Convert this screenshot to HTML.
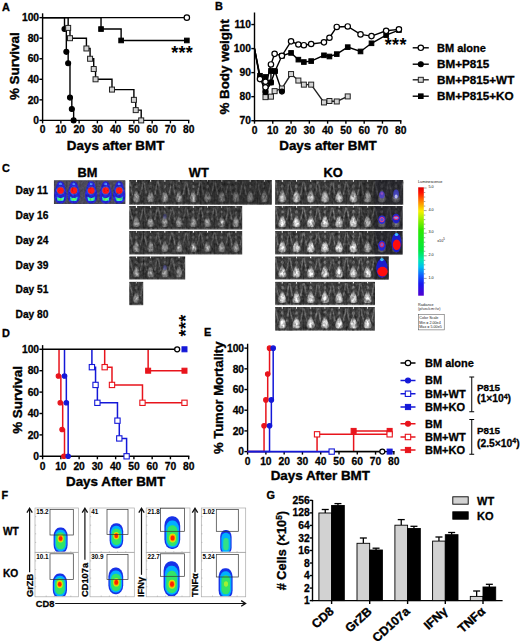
<!DOCTYPE html>
<html lang="en"><head><meta charset="utf-8"><title>Figure</title>
<style>html,body{margin:0;padding:0;background:#fff;}body{width:520px;height:643px;overflow:hidden;}svg{display:block;}text{font-family:'Liberation Sans', Arial, Helvetica, sans-serif;}</style>
</head><body>
<svg width="520" height="643" viewBox="0 0 520 643">
<rect x="0" y="0" width="520" height="643" fill="#fff"/>
<text x="2.00" y="10.50" font-size="10.9" text-anchor="start" font-weight="bold" fill="#000" stroke="#000" stroke-width="0.31" >A</text>
<line x1="42.60" y1="13.30" x2="42.60" y2="121.10" stroke="#000" stroke-width="1.4" />
<line x1="41.90" y1="120.40" x2="189.38" y2="120.40" stroke="#000" stroke-width="1.4" />
<line x1="39.40" y1="120.40" x2="42.60" y2="120.40" stroke="#000" stroke-width="1.4" />
<text x="39.10" y="124.10" font-size="10.3" text-anchor="end" font-weight="bold" fill="#000" stroke="#000" stroke-width="0.29" >0</text>
<line x1="39.40" y1="99.85" x2="42.60" y2="99.85" stroke="#000" stroke-width="1.4" />
<text x="39.10" y="103.55" font-size="10.3" text-anchor="end" font-weight="bold" fill="#000" stroke="#000" stroke-width="0.29" >20</text>
<line x1="39.40" y1="79.30" x2="42.60" y2="79.30" stroke="#000" stroke-width="1.4" />
<text x="39.10" y="83.00" font-size="10.3" text-anchor="end" font-weight="bold" fill="#000" stroke="#000" stroke-width="0.29" >40</text>
<line x1="39.40" y1="58.75" x2="42.60" y2="58.75" stroke="#000" stroke-width="1.4" />
<text x="39.10" y="62.45" font-size="10.3" text-anchor="end" font-weight="bold" fill="#000" stroke="#000" stroke-width="0.29" >60</text>
<line x1="39.40" y1="38.20" x2="42.60" y2="38.20" stroke="#000" stroke-width="1.4" />
<text x="39.10" y="41.90" font-size="10.3" text-anchor="end" font-weight="bold" fill="#000" stroke="#000" stroke-width="0.29" >80</text>
<line x1="39.40" y1="17.65" x2="42.60" y2="17.65" stroke="#000" stroke-width="1.4" />
<text x="39.10" y="21.35" font-size="10.3" text-anchor="end" font-weight="bold" fill="#000" stroke="#000" stroke-width="0.29" >100</text>
<line x1="42.60" y1="120.40" x2="42.60" y2="123.40" stroke="#000" stroke-width="1.4" />
<text x="42.60" y="133.30" font-size="10.3" text-anchor="middle" font-weight="bold" fill="#000" stroke="#000" stroke-width="0.29" >0</text>
<line x1="60.86" y1="120.40" x2="60.86" y2="123.40" stroke="#000" stroke-width="1.4" />
<text x="60.86" y="133.30" font-size="10.3" text-anchor="middle" font-weight="bold" fill="#000" stroke="#000" stroke-width="0.29" >10</text>
<line x1="79.12" y1="120.40" x2="79.12" y2="123.40" stroke="#000" stroke-width="1.4" />
<text x="79.12" y="133.30" font-size="10.3" text-anchor="middle" font-weight="bold" fill="#000" stroke="#000" stroke-width="0.29" >20</text>
<line x1="97.38" y1="120.40" x2="97.38" y2="123.40" stroke="#000" stroke-width="1.4" />
<text x="97.38" y="133.30" font-size="10.3" text-anchor="middle" font-weight="bold" fill="#000" stroke="#000" stroke-width="0.29" >30</text>
<line x1="115.64" y1="120.40" x2="115.64" y2="123.40" stroke="#000" stroke-width="1.4" />
<text x="115.64" y="133.30" font-size="10.3" text-anchor="middle" font-weight="bold" fill="#000" stroke="#000" stroke-width="0.29" >40</text>
<line x1="133.90" y1="120.40" x2="133.90" y2="123.40" stroke="#000" stroke-width="1.4" />
<text x="133.90" y="133.30" font-size="10.3" text-anchor="middle" font-weight="bold" fill="#000" stroke="#000" stroke-width="0.29" >50</text>
<line x1="152.16" y1="120.40" x2="152.16" y2="123.40" stroke="#000" stroke-width="1.4" />
<text x="152.16" y="133.30" font-size="10.3" text-anchor="middle" font-weight="bold" fill="#000" stroke="#000" stroke-width="0.29" >60</text>
<line x1="170.42" y1="120.40" x2="170.42" y2="123.40" stroke="#000" stroke-width="1.4" />
<text x="170.42" y="133.30" font-size="10.3" text-anchor="middle" font-weight="bold" fill="#000" stroke="#000" stroke-width="0.29" >70</text>
<line x1="188.68" y1="120.40" x2="188.68" y2="123.40" stroke="#000" stroke-width="1.4" />
<text x="188.68" y="133.30" font-size="10.3" text-anchor="middle" font-weight="bold" fill="#000" stroke="#000" stroke-width="0.29" >80</text>
<text x="115.60" y="150.00" font-size="13.4" text-anchor="middle" font-weight="bold" fill="#000" stroke="#000" stroke-width="0.38" >Days after BMT</text>
<text transform="translate(19.10,66.20) rotate(-90)" font-size="13.4" text-anchor="middle" font-weight="bold" fill="#000" stroke="#000" stroke-width="0.38">% Survival</text>
<line x1="42.60" y1="17.65" x2="186.85" y2="17.65" stroke="#000" stroke-width="1.4" />
<polyline points="42.60,17.65 101.03,17.65 101.03,29.06 121.12,29.06 121.12,40.46 186.85,40.46" fill="none" stroke="#000" stroke-width="1.4" stroke-linejoin="miter" />
<polyline points="42.60,17.65 64.51,17.65 64.51,29.06 66.34,29.06 66.34,51.87 68.16,51.87 68.16,63.27 69.99,63.27 69.99,97.59 71.82,97.59 71.82,108.99 73.64,108.99 73.64,120.40" fill="none" stroke="#000" stroke-width="1.4" stroke-linejoin="miter" />
<polyline points="42.60,17.65 68.16,17.65 68.16,27.92 69.99,27.92 69.99,38.20 86.42,38.20 86.42,48.47 90.08,48.47 90.08,58.75 93.73,58.75 93.73,69.03 95.55,69.03 95.55,79.30 111.99,79.30 111.99,89.58 133.90,89.58 133.90,99.85 135.73,99.85 135.73,110.12 141.20,110.12 141.20,120.40" fill="none" stroke="#000" stroke-width="1.4" stroke-linejoin="miter" />
<circle cx="64.51" cy="29.06" r="2.5" fill="#000" stroke="#000" stroke-width="1.1"/>
<circle cx="66.34" cy="51.87" r="2.5" fill="#000" stroke="#000" stroke-width="1.1"/>
<circle cx="68.16" cy="63.27" r="2.5" fill="#000" stroke="#000" stroke-width="1.1"/>
<circle cx="69.99" cy="97.59" r="2.5" fill="#000" stroke="#000" stroke-width="1.1"/>
<circle cx="71.82" cy="108.99" r="2.5" fill="#000" stroke="#000" stroke-width="1.1"/>
<circle cx="73.64" cy="120.40" r="2.5" fill="#000" stroke="#000" stroke-width="1.1"/>
<rect x="65.66" y="25.42" width="5.0" height="5.0" fill="#d4d4d4" stroke="#222" stroke-width="1.0"/>
<rect x="67.49" y="35.70" width="5.0" height="5.0" fill="#d4d4d4" stroke="#222" stroke-width="1.0"/>
<rect x="83.92" y="45.97" width="5.0" height="5.0" fill="#d4d4d4" stroke="#222" stroke-width="1.0"/>
<rect x="87.58" y="56.25" width="5.0" height="5.0" fill="#d4d4d4" stroke="#222" stroke-width="1.0"/>
<rect x="91.23" y="66.53" width="5.0" height="5.0" fill="#d4d4d4" stroke="#222" stroke-width="1.0"/>
<rect x="93.05" y="76.80" width="5.0" height="5.0" fill="#d4d4d4" stroke="#222" stroke-width="1.0"/>
<rect x="109.49" y="87.08" width="5.0" height="5.0" fill="#d4d4d4" stroke="#222" stroke-width="1.0"/>
<rect x="131.40" y="97.35" width="5.0" height="5.0" fill="#d4d4d4" stroke="#222" stroke-width="1.0"/>
<rect x="133.23" y="107.62" width="5.0" height="5.0" fill="#d4d4d4" stroke="#222" stroke-width="1.0"/>
<rect x="138.70" y="117.90" width="5.0" height="5.0" fill="#d4d4d4" stroke="#222" stroke-width="1.0"/>
<rect x="98.73" y="26.76" width="4.6" height="4.6" fill="#000" stroke="#000" stroke-width="1.0"/>
<rect x="118.82" y="38.16" width="4.6" height="4.6" fill="#000" stroke="#000" stroke-width="1.0"/>
<rect x="184.55" y="38.16" width="4.6" height="4.6" fill="#000" stroke="#000" stroke-width="1.0"/>
<circle cx="186.85" cy="17.65" r="2.7" fill="#fff" stroke="#000" stroke-width="1.2"/>
<text x="182.20" y="58.80" font-size="18" letter-spacing="0.35" text-anchor="middle" font-weight="bold" fill="#000">***</text>
<text x="215.10" y="10.30" font-size="10.9" text-anchor="start" font-weight="bold" fill="#000" stroke="#000" stroke-width="0.31" >B</text>
<line x1="254.50" y1="12.50" x2="254.50" y2="121.40" stroke="#000" stroke-width="1.4" />
<line x1="253.80" y1="120.70" x2="401.44" y2="120.70" stroke="#000" stroke-width="1.4" />
<line x1="251.30" y1="120.70" x2="254.50" y2="120.70" stroke="#000" stroke-width="1.4" />
<text x="251.00" y="124.40" font-size="10.3" text-anchor="end" font-weight="bold" fill="#000" stroke="#000" stroke-width="0.29" >70</text>
<line x1="251.30" y1="96.66" x2="254.50" y2="96.66" stroke="#000" stroke-width="1.4" />
<text x="251.00" y="100.36" font-size="10.3" text-anchor="end" font-weight="bold" fill="#000" stroke="#000" stroke-width="0.29" >80</text>
<line x1="251.30" y1="72.62" x2="254.50" y2="72.62" stroke="#000" stroke-width="1.4" />
<text x="251.00" y="76.32" font-size="10.3" text-anchor="end" font-weight="bold" fill="#000" stroke="#000" stroke-width="0.29" >90</text>
<line x1="251.30" y1="48.58" x2="254.50" y2="48.58" stroke="#000" stroke-width="1.4" />
<text x="251.00" y="52.28" font-size="10.3" text-anchor="end" font-weight="bold" fill="#000" stroke="#000" stroke-width="0.29" >100</text>
<line x1="251.30" y1="24.54" x2="254.50" y2="24.54" stroke="#000" stroke-width="1.4" />
<text x="251.00" y="28.24" font-size="10.3" text-anchor="end" font-weight="bold" fill="#000" stroke="#000" stroke-width="0.29" >110</text>
<line x1="254.50" y1="120.70" x2="254.50" y2="123.70" stroke="#000" stroke-width="1.4" />
<text x="254.50" y="133.60" font-size="10.3" text-anchor="middle" font-weight="bold" fill="#000" stroke="#000" stroke-width="0.29" >0</text>
<line x1="272.78" y1="120.70" x2="272.78" y2="123.70" stroke="#000" stroke-width="1.4" />
<text x="272.78" y="133.60" font-size="10.3" text-anchor="middle" font-weight="bold" fill="#000" stroke="#000" stroke-width="0.29" >10</text>
<line x1="291.06" y1="120.70" x2="291.06" y2="123.70" stroke="#000" stroke-width="1.4" />
<text x="291.06" y="133.60" font-size="10.3" text-anchor="middle" font-weight="bold" fill="#000" stroke="#000" stroke-width="0.29" >20</text>
<line x1="309.34" y1="120.70" x2="309.34" y2="123.70" stroke="#000" stroke-width="1.4" />
<text x="309.34" y="133.60" font-size="10.3" text-anchor="middle" font-weight="bold" fill="#000" stroke="#000" stroke-width="0.29" >30</text>
<line x1="327.62" y1="120.70" x2="327.62" y2="123.70" stroke="#000" stroke-width="1.4" />
<text x="327.62" y="133.60" font-size="10.3" text-anchor="middle" font-weight="bold" fill="#000" stroke="#000" stroke-width="0.29" >40</text>
<line x1="345.90" y1="120.70" x2="345.90" y2="123.70" stroke="#000" stroke-width="1.4" />
<text x="345.90" y="133.60" font-size="10.3" text-anchor="middle" font-weight="bold" fill="#000" stroke="#000" stroke-width="0.29" >50</text>
<line x1="364.18" y1="120.70" x2="364.18" y2="123.70" stroke="#000" stroke-width="1.4" />
<text x="364.18" y="133.60" font-size="10.3" text-anchor="middle" font-weight="bold" fill="#000" stroke="#000" stroke-width="0.29" >60</text>
<line x1="382.46" y1="120.70" x2="382.46" y2="123.70" stroke="#000" stroke-width="1.4" />
<text x="382.46" y="133.60" font-size="10.3" text-anchor="middle" font-weight="bold" fill="#000" stroke="#000" stroke-width="0.29" >70</text>
<line x1="400.74" y1="120.70" x2="400.74" y2="123.70" stroke="#000" stroke-width="1.4" />
<text x="400.74" y="133.60" font-size="10.3" text-anchor="middle" font-weight="bold" fill="#000" stroke="#000" stroke-width="0.29" >80</text>
<text x="328.00" y="150.00" font-size="13.4" text-anchor="middle" font-weight="bold" fill="#000" stroke="#000" stroke-width="0.38" >Days after BMT</text>
<text transform="translate(228.60,67.00) rotate(-90)" font-size="13.4" text-anchor="middle" font-weight="bold" fill="#000" stroke="#000" stroke-width="0.38">% Body weight</text>
<polyline points="254.50,48.58 259.98,77.43 265.47,91.85 270.95,82.48 274.97,71.18 281.92,91.61" fill="none" stroke="#000" stroke-width="1.4" stroke-linejoin="miter" />
<polyline points="265.47,97.14 270.95,96.66 274.61,91.13 281.92,88.49 291.06,74.06 298.37,80.55 303.86,84.64 311.17,84.64 323.96,102.43 329.45,100.99 336.76,101.47 347.73,96.42" fill="none" stroke="#222" stroke-width="1.4" stroke-linejoin="miter" />
<polyline points="254.50,48.58 259.98,75.75 265.47,76.95 265.47,91.85 270.95,82.48 270.95,70.94 274.97,71.18 281.92,55.79 291.06,52.91 298.37,59.64 303.86,62.04 311.17,61.08 323.96,55.31 329.45,56.51 336.76,54.11 347.73,47.14 360.52,51.46 371.49,43.29 386.12,35.12 398.91,30.07" fill="none" stroke="#000" stroke-width="1.4" stroke-linejoin="miter" />
<polyline points="254.50,48.58 259.98,79.11 265.47,81.76 265.47,87.28 270.95,64.45 274.61,53.87 281.92,55.79 291.06,41.37 298.37,44.49 303.86,45.21 311.17,44.01 323.96,42.33 329.45,37.76 336.76,26.94 347.73,26.46 360.52,34.40 371.49,36.08 386.12,30.79 398.91,29.35" fill="none" stroke="#000" stroke-width="1.4" stroke-linejoin="miter" />
<rect x="262.97" y="94.64" width="5.0" height="5.0" fill="#d4d4d4" stroke="#222" stroke-width="1.0"/>
<rect x="268.45" y="94.16" width="5.0" height="5.0" fill="#d4d4d4" stroke="#222" stroke-width="1.0"/>
<rect x="272.11" y="88.63" width="5.0" height="5.0" fill="#d4d4d4" stroke="#222" stroke-width="1.0"/>
<rect x="279.42" y="85.99" width="5.0" height="5.0" fill="#d4d4d4" stroke="#222" stroke-width="1.0"/>
<rect x="288.56" y="71.56" width="5.0" height="5.0" fill="#d4d4d4" stroke="#222" stroke-width="1.0"/>
<rect x="295.87" y="78.05" width="5.0" height="5.0" fill="#d4d4d4" stroke="#222" stroke-width="1.0"/>
<rect x="301.36" y="82.14" width="5.0" height="5.0" fill="#d4d4d4" stroke="#222" stroke-width="1.0"/>
<rect x="308.67" y="82.14" width="5.0" height="5.0" fill="#d4d4d4" stroke="#222" stroke-width="1.0"/>
<rect x="321.46" y="99.93" width="5.0" height="5.0" fill="#d4d4d4" stroke="#222" stroke-width="1.0"/>
<rect x="326.95" y="98.49" width="5.0" height="5.0" fill="#d4d4d4" stroke="#222" stroke-width="1.0"/>
<rect x="334.26" y="98.97" width="5.0" height="5.0" fill="#d4d4d4" stroke="#222" stroke-width="1.0"/>
<rect x="345.23" y="93.92" width="5.0" height="5.0" fill="#d4d4d4" stroke="#222" stroke-width="1.0"/>
<circle cx="259.98" cy="77.43" r="2.5" fill="#000" stroke="#000" stroke-width="1.1"/>
<circle cx="265.47" cy="91.85" r="2.5" fill="#000" stroke="#000" stroke-width="1.1"/>
<circle cx="270.95" cy="82.48" r="2.5" fill="#000" stroke="#000" stroke-width="1.1"/>
<circle cx="274.97" cy="71.18" r="2.5" fill="#000" stroke="#000" stroke-width="1.1"/>
<circle cx="281.92" cy="91.61" r="2.5" fill="#000" stroke="#000" stroke-width="1.1"/>
<rect x="257.68" y="73.45" width="4.6" height="4.6" fill="#000" stroke="#000" stroke-width="1.0"/>
<rect x="263.17" y="74.65" width="4.6" height="4.6" fill="#000" stroke="#000" stroke-width="1.0"/>
<rect x="263.17" y="89.55" width="4.6" height="4.6" fill="#000" stroke="#000" stroke-width="1.0"/>
<rect x="268.65" y="80.18" width="4.6" height="4.6" fill="#000" stroke="#000" stroke-width="1.0"/>
<rect x="268.65" y="68.64" width="4.6" height="4.6" fill="#000" stroke="#000" stroke-width="1.0"/>
<rect x="272.67" y="68.88" width="4.6" height="4.6" fill="#000" stroke="#000" stroke-width="1.0"/>
<rect x="279.62" y="53.49" width="4.6" height="4.6" fill="#000" stroke="#000" stroke-width="1.0"/>
<rect x="288.76" y="50.61" width="4.6" height="4.6" fill="#000" stroke="#000" stroke-width="1.0"/>
<rect x="296.07" y="57.34" width="4.6" height="4.6" fill="#000" stroke="#000" stroke-width="1.0"/>
<rect x="301.56" y="59.74" width="4.6" height="4.6" fill="#000" stroke="#000" stroke-width="1.0"/>
<rect x="308.87" y="58.78" width="4.6" height="4.6" fill="#000" stroke="#000" stroke-width="1.0"/>
<rect x="321.66" y="53.01" width="4.6" height="4.6" fill="#000" stroke="#000" stroke-width="1.0"/>
<rect x="327.15" y="54.21" width="4.6" height="4.6" fill="#000" stroke="#000" stroke-width="1.0"/>
<rect x="334.46" y="51.81" width="4.6" height="4.6" fill="#000" stroke="#000" stroke-width="1.0"/>
<rect x="345.43" y="44.84" width="4.6" height="4.6" fill="#000" stroke="#000" stroke-width="1.0"/>
<rect x="358.22" y="49.16" width="4.6" height="4.6" fill="#000" stroke="#000" stroke-width="1.0"/>
<rect x="369.19" y="40.99" width="4.6" height="4.6" fill="#000" stroke="#000" stroke-width="1.0"/>
<rect x="383.82" y="32.82" width="4.6" height="4.6" fill="#000" stroke="#000" stroke-width="1.0"/>
<rect x="396.61" y="27.77" width="4.6" height="4.6" fill="#000" stroke="#000" stroke-width="1.0"/>
<circle cx="259.98" cy="79.11" r="2.7" fill="#fff" stroke="#000" stroke-width="1.2"/>
<circle cx="265.47" cy="81.76" r="2.7" fill="#fff" stroke="#000" stroke-width="1.2"/>
<circle cx="265.47" cy="87.28" r="2.7" fill="#fff" stroke="#000" stroke-width="1.2"/>
<circle cx="270.95" cy="64.45" r="2.7" fill="#fff" stroke="#000" stroke-width="1.2"/>
<circle cx="274.61" cy="53.87" r="2.7" fill="#fff" stroke="#000" stroke-width="1.2"/>
<circle cx="281.92" cy="55.79" r="2.7" fill="#fff" stroke="#000" stroke-width="1.2"/>
<circle cx="291.06" cy="41.37" r="2.7" fill="#fff" stroke="#000" stroke-width="1.2"/>
<circle cx="298.37" cy="44.49" r="2.7" fill="#fff" stroke="#000" stroke-width="1.2"/>
<circle cx="303.86" cy="45.21" r="2.7" fill="#fff" stroke="#000" stroke-width="1.2"/>
<circle cx="311.17" cy="44.01" r="2.7" fill="#fff" stroke="#000" stroke-width="1.2"/>
<circle cx="323.96" cy="42.33" r="2.7" fill="#fff" stroke="#000" stroke-width="1.2"/>
<circle cx="329.45" cy="37.76" r="2.7" fill="#fff" stroke="#000" stroke-width="1.2"/>
<circle cx="336.76" cy="26.94" r="2.7" fill="#fff" stroke="#000" stroke-width="1.2"/>
<circle cx="347.73" cy="26.46" r="2.7" fill="#fff" stroke="#000" stroke-width="1.2"/>
<circle cx="360.52" cy="34.40" r="2.7" fill="#fff" stroke="#000" stroke-width="1.2"/>
<circle cx="371.49" cy="36.08" r="2.7" fill="#fff" stroke="#000" stroke-width="1.2"/>
<circle cx="386.12" cy="30.79" r="2.7" fill="#fff" stroke="#000" stroke-width="1.2"/>
<circle cx="398.91" cy="29.35" r="2.7" fill="#fff" stroke="#000" stroke-width="1.2"/>
<text x="395.80" y="50.50" font-size="18" letter-spacing="0.35" text-anchor="middle" font-weight="bold" fill="#000">***</text>
<line x1="412.70" y1="47.80" x2="428.80" y2="47.80" stroke="#000" stroke-width="1.4" />
<circle cx="420.80" cy="47.80" r="2.7" fill="#fff" stroke="#000" stroke-width="1.2"/>
<text x="437.00" y="51.70" font-size="11" text-anchor="start" font-weight="bold" fill="#000" stroke="#000" stroke-width="0.31" >BM alone</text>
<line x1="412.70" y1="64.20" x2="428.80" y2="64.20" stroke="#000" stroke-width="1.4" />
<circle cx="420.80" cy="64.20" r="2.5" fill="#000" stroke="#000" stroke-width="1.1"/>
<text x="437.00" y="68.10" font-size="11.7" text-anchor="start" font-weight="bold" fill="#000" stroke="#000" stroke-width="0.33" >BM+P815</text>
<line x1="412.70" y1="79.80" x2="428.80" y2="79.80" stroke="#222" stroke-width="1.4" />
<rect x="418.30" y="77.30" width="5.0" height="5.0" fill="#d4d4d4" stroke="#222" stroke-width="1.0"/>
<text x="437.00" y="83.70" font-size="11.7" text-anchor="start" font-weight="bold" fill="#000" stroke="#000" stroke-width="0.33" >BM+P815+WT</text>
<line x1="412.70" y1="96.20" x2="428.80" y2="96.20" stroke="#000" stroke-width="1.4" />
<rect x="418.50" y="93.90" width="4.6" height="4.6" fill="#000" stroke="#000" stroke-width="1.0"/>
<text x="437.00" y="100.10" font-size="11.7" text-anchor="start" font-weight="bold" fill="#000" stroke="#000" stroke-width="0.33" >BM+P815+KO</text>
<text x="2.00" y="336.50" font-size="10.9" text-anchor="start" font-weight="bold" fill="#000" stroke="#000" stroke-width="0.31" >D</text>
<line x1="42.60" y1="345.10" x2="42.60" y2="457.00" stroke="#000" stroke-width="1.4" />
<line x1="41.90" y1="456.30" x2="189.38" y2="456.30" stroke="#000" stroke-width="1.4" />
<line x1="39.40" y1="456.30" x2="42.60" y2="456.30" stroke="#000" stroke-width="1.4" />
<text x="39.10" y="460.00" font-size="10.3" text-anchor="end" font-weight="bold" fill="#000" stroke="#000" stroke-width="0.29" >0</text>
<line x1="39.40" y1="434.90" x2="42.60" y2="434.90" stroke="#000" stroke-width="1.4" />
<text x="39.10" y="438.60" font-size="10.3" text-anchor="end" font-weight="bold" fill="#000" stroke="#000" stroke-width="0.29" >20</text>
<line x1="39.40" y1="413.50" x2="42.60" y2="413.50" stroke="#000" stroke-width="1.4" />
<text x="39.10" y="417.20" font-size="10.3" text-anchor="end" font-weight="bold" fill="#000" stroke="#000" stroke-width="0.29" >40</text>
<line x1="39.40" y1="392.10" x2="42.60" y2="392.10" stroke="#000" stroke-width="1.4" />
<text x="39.10" y="395.80" font-size="10.3" text-anchor="end" font-weight="bold" fill="#000" stroke="#000" stroke-width="0.29" >60</text>
<line x1="39.40" y1="370.70" x2="42.60" y2="370.70" stroke="#000" stroke-width="1.4" />
<text x="39.10" y="374.40" font-size="10.3" text-anchor="end" font-weight="bold" fill="#000" stroke="#000" stroke-width="0.29" >80</text>
<line x1="39.40" y1="349.30" x2="42.60" y2="349.30" stroke="#000" stroke-width="1.4" />
<text x="39.10" y="353.00" font-size="10.3" text-anchor="end" font-weight="bold" fill="#000" stroke="#000" stroke-width="0.29" >100</text>
<line x1="42.60" y1="456.30" x2="42.60" y2="459.30" stroke="#000" stroke-width="1.4" />
<text x="42.60" y="469.70" font-size="10.3" text-anchor="middle" font-weight="bold" fill="#000" stroke="#000" stroke-width="0.29" >0</text>
<line x1="60.86" y1="456.30" x2="60.86" y2="459.30" stroke="#000" stroke-width="1.4" />
<text x="60.86" y="469.70" font-size="10.3" text-anchor="middle" font-weight="bold" fill="#000" stroke="#000" stroke-width="0.29" >10</text>
<line x1="79.12" y1="456.30" x2="79.12" y2="459.30" stroke="#000" stroke-width="1.4" />
<text x="79.12" y="469.70" font-size="10.3" text-anchor="middle" font-weight="bold" fill="#000" stroke="#000" stroke-width="0.29" >20</text>
<line x1="97.38" y1="456.30" x2="97.38" y2="459.30" stroke="#000" stroke-width="1.4" />
<text x="97.38" y="469.70" font-size="10.3" text-anchor="middle" font-weight="bold" fill="#000" stroke="#000" stroke-width="0.29" >30</text>
<line x1="115.64" y1="456.30" x2="115.64" y2="459.30" stroke="#000" stroke-width="1.4" />
<text x="115.64" y="469.70" font-size="10.3" text-anchor="middle" font-weight="bold" fill="#000" stroke="#000" stroke-width="0.29" >40</text>
<line x1="133.90" y1="456.30" x2="133.90" y2="459.30" stroke="#000" stroke-width="1.4" />
<text x="133.90" y="469.70" font-size="10.3" text-anchor="middle" font-weight="bold" fill="#000" stroke="#000" stroke-width="0.29" >50</text>
<line x1="152.16" y1="456.30" x2="152.16" y2="459.30" stroke="#000" stroke-width="1.4" />
<text x="152.16" y="469.70" font-size="10.3" text-anchor="middle" font-weight="bold" fill="#000" stroke="#000" stroke-width="0.29" >60</text>
<line x1="170.42" y1="456.30" x2="170.42" y2="459.30" stroke="#000" stroke-width="1.4" />
<text x="170.42" y="469.70" font-size="10.3" text-anchor="middle" font-weight="bold" fill="#000" stroke="#000" stroke-width="0.29" >70</text>
<line x1="188.68" y1="456.30" x2="188.68" y2="459.30" stroke="#000" stroke-width="1.4" />
<text x="188.68" y="469.70" font-size="10.3" text-anchor="middle" font-weight="bold" fill="#000" stroke="#000" stroke-width="0.29" >80</text>
<text x="115.60" y="485.50" font-size="13.4" text-anchor="middle" font-weight="bold" fill="#000" stroke="#000" stroke-width="0.38" >Days After BMT</text>
<text transform="translate(21.70,400.00) rotate(-90)" font-size="13.4" text-anchor="middle" font-weight="bold" fill="#000" stroke="#000" stroke-width="0.38">% Survival</text>
<polyline points="104.68,349.30 104.68,367.17 111.99,367.17 111.99,384.93 142.48,384.93 142.48,402.80 184.48,402.80" fill="none" stroke="#e8141c" stroke-width="1.5" stroke-linejoin="miter" />
<polyline points="148.14,349.30 148.14,370.70 184.48,370.70" fill="none" stroke="#e8141c" stroke-width="1.5" stroke-linejoin="miter" />
<polyline points="91.90,349.30 91.90,367.17 95.55,367.17 95.55,384.93 97.38,384.93 97.38,402.80 117.47,402.80 117.47,420.67 119.29,420.67 119.29,438.43 126.60,438.43 126.60,456.30" fill="none" stroke="#1418d8" stroke-width="1.5" stroke-linejoin="miter" />
<polyline points="59.03,349.30 59.03,376.05 60.86,376.05 60.86,402.80 62.69,402.80 62.69,429.55 64.51,429.55 64.51,456.30" fill="none" stroke="#e8141c" stroke-width="1.5" stroke-linejoin="miter" />
<polyline points="64.51,349.30 64.51,376.05 66.34,376.05 66.34,402.80 68.16,402.80 68.16,456.30" fill="none" stroke="#1418d8" stroke-width="1.5" stroke-linejoin="miter" />
<line x1="42.60" y1="349.30" x2="177.18" y2="349.30" stroke="#000" stroke-width="1.6" />
<circle cx="58.43" cy="376.05" r="2.25" fill="#e8141c" stroke="#e8141c" stroke-width="1.1"/>
<circle cx="60.26" cy="402.80" r="2.25" fill="#e8141c" stroke="#e8141c" stroke-width="1.1"/>
<circle cx="62.09" cy="429.55" r="2.25" fill="#e8141c" stroke="#e8141c" stroke-width="1.1"/>
<circle cx="63.91" cy="456.30" r="2.25" fill="#e8141c" stroke="#e8141c" stroke-width="1.1"/>
<circle cx="64.51" cy="376.05" r="2.25" fill="#1418d8" stroke="#1418d8" stroke-width="1.1"/>
<circle cx="66.34" cy="402.80" r="2.25" fill="#1418d8" stroke="#1418d8" stroke-width="1.1"/>
<circle cx="68.16" cy="456.30" r="2.25" fill="#1418d8" stroke="#1418d8" stroke-width="1.1"/>
<rect x="89.25" y="364.52" width="5.3" height="5.3" fill="#fff" stroke="#1418d8" stroke-width="1.1"/>
<rect x="92.90" y="382.28" width="5.3" height="5.3" fill="#fff" stroke="#1418d8" stroke-width="1.1"/>
<rect x="94.73" y="400.15" width="5.3" height="5.3" fill="#fff" stroke="#1418d8" stroke-width="1.1"/>
<rect x="114.82" y="418.02" width="5.3" height="5.3" fill="#fff" stroke="#1418d8" stroke-width="1.1"/>
<rect x="116.64" y="435.78" width="5.3" height="5.3" fill="#fff" stroke="#1418d8" stroke-width="1.1"/>
<rect x="123.95" y="453.65" width="5.3" height="5.3" fill="#fff" stroke="#1418d8" stroke-width="1.1"/>
<rect x="102.03" y="364.52" width="5.3" height="5.3" fill="#fff" stroke="#e8141c" stroke-width="1.1"/>
<rect x="109.34" y="382.28" width="5.3" height="5.3" fill="#fff" stroke="#e8141c" stroke-width="1.1"/>
<rect x="139.83" y="400.15" width="5.3" height="5.3" fill="#fff" stroke="#e8141c" stroke-width="1.1"/>
<rect x="181.83" y="400.15" width="5.3" height="5.3" fill="#fff" stroke="#e8141c" stroke-width="1.1"/>
<rect x="145.64" y="368.20" width="5.0" height="5.0" fill="#e8141c" stroke="#e8141c" stroke-width="1.0"/>
<rect x="181.98" y="368.20" width="5.0" height="5.0" fill="#e8141c" stroke="#e8141c" stroke-width="1.0"/>
<circle cx="177.18" cy="349.30" r="2.5" fill="#fff" stroke="#000" stroke-width="1.3"/>
<rect x="181.98" y="346.80" width="5.0" height="5.0" fill="#1418d8" stroke="#1418d8" stroke-width="1.0"/>
<text transform="translate(192.40,325.40) rotate(-90)" font-size="18" letter-spacing="0.35" text-anchor="middle" font-weight="bold" fill="#000">***</text>
<text x="203.90" y="336.30" font-size="10.9" text-anchor="start" font-weight="bold" fill="#000" stroke="#000" stroke-width="0.31" >E</text>
<line x1="247.60" y1="343.75" x2="247.60" y2="452.30" stroke="#000" stroke-width="1.4" />
<line x1="246.90" y1="451.60" x2="394.54" y2="451.60" stroke="#000" stroke-width="1.4" />
<line x1="244.40" y1="451.60" x2="247.60" y2="451.60" stroke="#000" stroke-width="1.4" />
<text x="244.10" y="455.30" font-size="10.3" text-anchor="end" font-weight="bold" fill="#000" stroke="#000" stroke-width="0.29" >0</text>
<line x1="244.40" y1="430.91" x2="247.60" y2="430.91" stroke="#000" stroke-width="1.4" />
<text x="244.10" y="434.61" font-size="10.3" text-anchor="end" font-weight="bold" fill="#000" stroke="#000" stroke-width="0.29" >20</text>
<line x1="244.40" y1="410.22" x2="247.60" y2="410.22" stroke="#000" stroke-width="1.4" />
<text x="244.10" y="413.92" font-size="10.3" text-anchor="end" font-weight="bold" fill="#000" stroke="#000" stroke-width="0.29" >40</text>
<line x1="244.40" y1="389.53" x2="247.60" y2="389.53" stroke="#000" stroke-width="1.4" />
<text x="244.10" y="393.23" font-size="10.3" text-anchor="end" font-weight="bold" fill="#000" stroke="#000" stroke-width="0.29" >60</text>
<line x1="244.40" y1="368.84" x2="247.60" y2="368.84" stroke="#000" stroke-width="1.4" />
<text x="244.10" y="372.54" font-size="10.3" text-anchor="end" font-weight="bold" fill="#000" stroke="#000" stroke-width="0.29" >80</text>
<line x1="244.40" y1="348.15" x2="247.60" y2="348.15" stroke="#000" stroke-width="1.4" />
<text x="244.10" y="351.85" font-size="10.3" text-anchor="end" font-weight="bold" fill="#000" stroke="#000" stroke-width="0.29" >100</text>
<line x1="247.60" y1="451.60" x2="247.60" y2="454.60" stroke="#000" stroke-width="1.4" />
<text x="247.60" y="464.50" font-size="10.3" text-anchor="middle" font-weight="bold" fill="#000" stroke="#000" stroke-width="0.29" >0</text>
<line x1="265.88" y1="451.60" x2="265.88" y2="454.60" stroke="#000" stroke-width="1.4" />
<text x="265.88" y="464.50" font-size="10.3" text-anchor="middle" font-weight="bold" fill="#000" stroke="#000" stroke-width="0.29" >10</text>
<line x1="284.16" y1="451.60" x2="284.16" y2="454.60" stroke="#000" stroke-width="1.4" />
<text x="284.16" y="464.50" font-size="10.3" text-anchor="middle" font-weight="bold" fill="#000" stroke="#000" stroke-width="0.29" >20</text>
<line x1="302.44" y1="451.60" x2="302.44" y2="454.60" stroke="#000" stroke-width="1.4" />
<text x="302.44" y="464.50" font-size="10.3" text-anchor="middle" font-weight="bold" fill="#000" stroke="#000" stroke-width="0.29" >30</text>
<line x1="320.72" y1="451.60" x2="320.72" y2="454.60" stroke="#000" stroke-width="1.4" />
<text x="320.72" y="464.50" font-size="10.3" text-anchor="middle" font-weight="bold" fill="#000" stroke="#000" stroke-width="0.29" >40</text>
<line x1="339.00" y1="451.60" x2="339.00" y2="454.60" stroke="#000" stroke-width="1.4" />
<text x="339.00" y="464.50" font-size="10.3" text-anchor="middle" font-weight="bold" fill="#000" stroke="#000" stroke-width="0.29" >50</text>
<line x1="357.28" y1="451.60" x2="357.28" y2="454.60" stroke="#000" stroke-width="1.4" />
<text x="357.28" y="464.50" font-size="10.3" text-anchor="middle" font-weight="bold" fill="#000" stroke="#000" stroke-width="0.29" >60</text>
<line x1="375.56" y1="451.60" x2="375.56" y2="454.60" stroke="#000" stroke-width="1.4" />
<text x="375.56" y="464.50" font-size="10.3" text-anchor="middle" font-weight="bold" fill="#000" stroke="#000" stroke-width="0.29" >70</text>
<line x1="393.84" y1="451.60" x2="393.84" y2="454.60" stroke="#000" stroke-width="1.4" />
<text x="393.84" y="464.50" font-size="10.3" text-anchor="middle" font-weight="bold" fill="#000" stroke="#000" stroke-width="0.29" >80</text>
<text x="320.30" y="479.60" font-size="13.4" text-anchor="middle" font-weight="bold" fill="#000" stroke="#000" stroke-width="0.38" >Days After BMT</text>
<text transform="translate(223.40,397.80) rotate(-90)" font-size="13.0" text-anchor="middle" font-weight="bold" fill="#000" stroke="#000" stroke-width="0.36">% Tumor Mortality</text>
<polyline points="247.60,451.60 264.05,451.60 264.05,425.74 265.88,425.74 265.88,399.88 267.71,399.88 267.71,374.01 269.54,374.01 269.54,348.15" fill="none" stroke="#e8141c" stroke-width="1.5" stroke-linejoin="miter" />
<polyline points="247.60,451.60 269.54,451.60 269.54,425.74 271.36,425.74 271.36,399.88 273.19,399.88 273.19,348.15" fill="none" stroke="#1418d8" stroke-width="1.5" stroke-linejoin="miter" />
<polyline points="317.06,451.60 317.06,434.32 389.64,434.32" fill="none" stroke="#e8141c" stroke-width="1.5" stroke-linejoin="miter" />
<polyline points="353.62,451.60 353.62,430.91 389.64,430.91" fill="none" stroke="#e8141c" stroke-width="1.5" stroke-linejoin="miter" />
<line x1="331.69" y1="451.60" x2="382.87" y2="451.60" stroke="#000" stroke-width="1.5" />
<line x1="247.60" y1="451.60" x2="331.69" y2="451.60" stroke="#1418d8" stroke-width="1.6" />
<circle cx="264.05" cy="425.74" r="2.25" fill="#e8141c" stroke="#e8141c" stroke-width="1.1"/>
<circle cx="265.88" cy="399.88" r="2.25" fill="#e8141c" stroke="#e8141c" stroke-width="1.1"/>
<circle cx="267.71" cy="374.01" r="2.25" fill="#e8141c" stroke="#e8141c" stroke-width="1.1"/>
<circle cx="269.54" cy="348.15" r="2.25" fill="#e8141c" stroke="#e8141c" stroke-width="1.1"/>
<circle cx="269.54" cy="425.74" r="2.25" fill="#1418d8" stroke="#1418d8" stroke-width="1.1"/>
<circle cx="271.36" cy="399.88" r="2.25" fill="#1418d8" stroke="#1418d8" stroke-width="1.1"/>
<circle cx="273.19" cy="348.15" r="2.25" fill="#1418d8" stroke="#1418d8" stroke-width="1.1"/>
<rect x="351.12" y="428.41" width="5.0" height="5.0" fill="#e8141c" stroke="#e8141c" stroke-width="1.0"/>
<rect x="387.14" y="428.41" width="5.0" height="5.0" fill="#e8141c" stroke="#e8141c" stroke-width="1.0"/>
<rect x="314.41" y="431.67" width="5.3" height="5.3" fill="#fff" stroke="#e8141c" stroke-width="1.1"/>
<rect x="386.99" y="431.67" width="5.3" height="5.3" fill="#fff" stroke="#e8141c" stroke-width="1.1"/>
<rect x="329.04" y="448.95" width="5.3" height="5.3" fill="#fff" stroke="#1418d8" stroke-width="1.1"/>
<circle cx="382.32" cy="451.60" r="2.5" fill="#fff" stroke="#000" stroke-width="1.3"/>
<rect x="387.14" y="449.10" width="5.0" height="5.0" fill="#1418d8" stroke="#1418d8" stroke-width="1.0"/>
<line x1="400.50" y1="363.00" x2="415.50" y2="363.00" stroke="#000" stroke-width="1.5" />
<circle cx="408.00" cy="363.00" r="2.7" fill="#fff" stroke="#000" stroke-width="1.2"/>
<text x="425.00" y="366.90" font-size="11" text-anchor="start" font-weight="bold" fill="#000" stroke="#000" stroke-width="0.31" >BM alone</text>
<line x1="400.50" y1="380.50" x2="415.50" y2="380.50" stroke="#1418d8" stroke-width="1.5" />
<circle cx="408.00" cy="380.50" r="2.5" fill="#1418d8" stroke="#1418d8" stroke-width="1.1"/>
<text x="425.00" y="384.40" font-size="11" text-anchor="start" font-weight="bold" fill="#000" stroke="#000" stroke-width="0.31" >BM</text>
<line x1="400.50" y1="393.75" x2="415.50" y2="393.75" stroke="#1418d8" stroke-width="1.5" />
<rect x="405.30" y="391.05" width="5.4" height="5.4" fill="#fff" stroke="#1418d8" stroke-width="1.1"/>
<text x="425.00" y="397.65" font-size="11" text-anchor="start" font-weight="bold" fill="#000" stroke="#000" stroke-width="0.31" >BM+WT</text>
<line x1="400.50" y1="407.00" x2="415.50" y2="407.00" stroke="#1418d8" stroke-width="1.5" />
<rect x="405.40" y="404.40" width="5.2" height="5.2" fill="#1418d8" stroke="#1418d8" stroke-width="1.0"/>
<text x="425.00" y="410.90" font-size="11" text-anchor="start" font-weight="bold" fill="#000" stroke="#000" stroke-width="0.31" >BM+KO</text>
<line x1="400.50" y1="423.75" x2="415.50" y2="423.75" stroke="#e8141c" stroke-width="1.5" />
<circle cx="408.00" cy="423.75" r="2.5" fill="#e8141c" stroke="#e8141c" stroke-width="1.1"/>
<text x="425.00" y="427.65" font-size="11" text-anchor="start" font-weight="bold" fill="#000" stroke="#000" stroke-width="0.31" >BM</text>
<line x1="400.50" y1="437.00" x2="415.50" y2="437.00" stroke="#e8141c" stroke-width="1.5" />
<rect x="405.30" y="434.30" width="5.4" height="5.4" fill="#fff" stroke="#e8141c" stroke-width="1.1"/>
<text x="425.00" y="440.90" font-size="11" text-anchor="start" font-weight="bold" fill="#000" stroke="#000" stroke-width="0.31" >BM+WT</text>
<line x1="400.50" y1="450.00" x2="415.50" y2="450.00" stroke="#e8141c" stroke-width="1.5" />
<rect x="405.40" y="447.40" width="5.2" height="5.2" fill="#e8141c" stroke="#e8141c" stroke-width="1.0"/>
<text x="425.00" y="453.90" font-size="11" text-anchor="start" font-weight="bold" fill="#000" stroke="#000" stroke-width="0.31" >BM+KO</text>
<line x1="471.75" y1="377.00" x2="471.75" y2="411.75" stroke="#000" stroke-width="1.0" />
<line x1="469.30" y1="377.00" x2="474.20" y2="377.00" stroke="#000" stroke-width="1.0" />
<line x1="469.30" y1="411.75" x2="474.20" y2="411.75" stroke="#000" stroke-width="1.0" />
<line x1="471.75" y1="419.50" x2="471.75" y2="454.25" stroke="#000" stroke-width="1.0" />
<line x1="469.30" y1="419.50" x2="474.20" y2="419.50" stroke="#000" stroke-width="1.0" />
<line x1="469.30" y1="454.25" x2="474.20" y2="454.25" stroke="#000" stroke-width="1.0" />
<text x="477.00" y="391.00" font-size="9.9" text-anchor="start" font-weight="bold" fill="#000" stroke="#000" stroke-width="0.28" >P815</text>
<text x="477.00" y="402.30" font-size="10.3" text-anchor="start" font-weight="bold" fill="#000" stroke="#000" stroke-width="0.29" >(1×10<tspan font-size="7" dy="-3.4">4</tspan><tspan dy="3.4">)</tspan></text>
<text x="477.00" y="433.50" font-size="9.9" text-anchor="start" font-weight="bold" fill="#000" stroke="#000" stroke-width="0.28" >P815</text>
<text x="477.00" y="446.50" font-size="10.3" text-anchor="start" font-weight="bold" fill="#000" stroke="#000" stroke-width="0.29" >(2.5×10<tspan font-size="7" dy="-3.4">4</tspan><tspan dy="3.4">)</tspan></text>
<defs>
<filter id="bl" x="-20%" y="-20%" width="140%" height="140%"><feGaussianBlur stdDeviation="0.7"/></filter>
<filter id="bl2" x="-20%" y="-20%" width="140%" height="140%"><feGaussianBlur stdDeviation="0.45"/></filter>
<filter id="bl3" x="-30%" y="-30%" width="160%" height="160%"><feGaussianBlur stdDeviation="1.0"/></filter>
<radialGradient id="gw" cx="50%" cy="68%" r="52%"><stop offset="0" stop-color="#a8a8a8"/><stop offset="0.55" stop-color="#6e6e6e"/><stop offset="1" stop-color="#3c3c3c"/></radialGradient>
<radialGradient id="gk" cx="50%" cy="68%" r="52%"><stop offset="0" stop-color="#ececec"/><stop offset="0.5" stop-color="#a8a8a8"/><stop offset="1" stop-color="#505050"/></radialGradient>
<filter id="nz" x="0" y="0" width="100%" height="100%" color-interpolation-filters="sRGB">
<feTurbulence type="fractalNoise" baseFrequency="0.42 0.30" numOctaves="2" seed="7" result="n"/>
<feColorMatrix in="n" type="matrix" values="0.6 0.6 0 0 -0.1  0.6 0.6 0 0 -0.1  0.6 0.6 0 0 -0.1  0 0 0 0 1" result="g"/>
<feComposite in="SourceGraphic" in2="g" operator="arithmetic" k1="1.5" k2="0.35" k3="0" k4="-0.02"/>
</filter>
<filter id="nz2" x="0" y="0" width="100%" height="100%" color-interpolation-filters="sRGB">
<feTurbulence type="fractalNoise" baseFrequency="0.5 0.4" numOctaves="2" seed="11" result="n"/>
<feColorMatrix in="n" type="matrix" values="0.5 0.5 0 0 0  0.5 0.5 0 0 0  0.5 0.5 0 0 0  0 0 0 0 1" result="g"/>
<feComposite in="SourceGraphic" in2="g" operator="arithmetic" k1="0.8" k2="0.62" k3="0" k4="0"/>
</filter>
<g id="mw"><rect x="0" y="0" width="14.3" height="24.5" fill="#363636"/>
<path d="M0.4,1.5 L3.2,15 M13.9,1.5 L11.1,15" stroke="#555555" stroke-width="1.5" fill="none"/>
<g filter="url(#bl)"><ellipse cx="7.1" cy="6.4" rx="1.3" ry="1.8" fill="#555"/>
<path d="M7.1,7.6 C6.5,10 3.8,15.5 3.3,19.0 C3.2,21.4 4.8,22.0 7.1,22.0 C9.4,22.0 11.0,21.4 10.9,19.0 C10.4,15.5 7.7,10 7.1,7.6Z" fill="url(#gw)"/></g>
<rect x="6.6" y="0" width="1.0" height="1.9" fill="#c4c4c4"/><rect x="0" y="23.7" width="14.3" height="0.8" fill="#6c6c6c"/></g>
<g id="mk"><rect x="0" y="0" width="14.3" height="24.5" fill="#3a3a3a"/>
<path d="M0.4,1.5 L3.0,15 M13.9,1.5 L11.3,15" stroke="#5e5e5e" stroke-width="1.5" fill="none"/>
<g filter="url(#bl)"><ellipse cx="7.1" cy="6.2" rx="1.4" ry="1.9" fill="#666"/>
<path d="M7.1,7.2 C6.5,9.8 3.4,15.5 2.8,19.0 C2.7,21.6 4.6,22.2 7.1,22.2 C9.6,22.2 11.5,21.6 11.4,19.0 C10.8,15.5 7.7,9.8 7.1,7.2Z" fill="url(#gk)"/></g>
<rect x="6.6" y="0" width="1.0" height="1.9" fill="#cccccc"/><rect x="0" y="23.7" width="14.3" height="0.8" fill="#7a7a7a"/></g>
</defs>
<text x="2.00" y="172.00" font-size="10.9" text-anchor="start" font-weight="bold" fill="#000" stroke="#000" stroke-width="0.31" >C</text>
<text x="87.50" y="177.00" font-size="12.8" text-anchor="middle" font-weight="bold" fill="#000" stroke="#000" stroke-width="0.36" >BM</text>
<text x="198.80" y="177.00" font-size="12.8" text-anchor="middle" font-weight="bold" fill="#000" stroke="#000" stroke-width="0.36" >WT</text>
<text x="333.00" y="177.00" font-size="12.8" text-anchor="middle" font-weight="bold" fill="#000" stroke="#000" stroke-width="0.36" >KO</text>
<text x="15.60" y="193.70" font-size="10.2" text-anchor="start" font-weight="bold" fill="#000" stroke="#000" stroke-width="0.29" >Day 11</text>
<text x="15.60" y="218.90" font-size="10.2" text-anchor="start" font-weight="bold" fill="#000" stroke="#000" stroke-width="0.29" >Day 16</text>
<text x="15.60" y="243.60" font-size="10.2" text-anchor="start" font-weight="bold" fill="#000" stroke="#000" stroke-width="0.29" >Day 24</text>
<text x="15.60" y="268.70" font-size="10.2" text-anchor="start" font-weight="bold" fill="#000" stroke="#000" stroke-width="0.29" >Day 39</text>
<text x="15.60" y="293.10" font-size="10.2" text-anchor="start" font-weight="bold" fill="#000" stroke="#000" stroke-width="0.29" >Day 51</text>
<text x="15.60" y="318.10" font-size="10.2" text-anchor="start" font-weight="bold" fill="#000" stroke="#000" stroke-width="0.29" >Day 80</text>
<clipPath id="sc1"><rect x="129.30" y="180.00" width="142.40" height="24.70"/></clipPath>
<g clip-path="url(#sc1)"><g filter="url(#nz)"><g transform="translate(129.30,180.00) scale(1,1.0082)">
<use href="#mw" x="0.00" y="0"/>
<use href="#mw" x="14.22" y="0"/>
<use href="#mw" x="28.44" y="0"/>
<use href="#mw" x="42.66" y="0"/>
<use href="#mw" x="56.88" y="0"/>
<use href="#mw" x="71.10" y="0"/>
<use href="#mw" x="85.32" y="0"/>
<use href="#mw" x="99.54" y="0"/>
<use href="#mw" x="113.76" y="0"/>
<use href="#mw" x="127.98" y="0"/>
</g></g></g>
<clipPath id="sc2"><rect x="129.30" y="206.00" width="112.90" height="23.40"/></clipPath>
<g clip-path="url(#sc2)"><g filter="url(#nz)"><g transform="translate(129.30,206.00) scale(1,0.9551)">
<use href="#mw" x="0.00" y="0"/>
<use href="#mw" x="14.22" y="0"/>
<use href="#mw" x="28.44" y="0"/>
<use href="#mw" x="42.66" y="0"/>
<use href="#mw" x="56.88" y="0"/>
<use href="#mw" x="71.10" y="0"/>
<use href="#mw" x="85.32" y="0"/>
<use href="#mw" x="99.54" y="0"/>
</g></g></g>
<clipPath id="sc3"><rect x="129.30" y="231.00" width="112.90" height="23.60"/></clipPath>
<g clip-path="url(#sc3)"><g filter="url(#nz)"><g transform="translate(129.30,231.00) scale(1,0.9633)">
<use href="#mw" x="0.00" y="0"/>
<use href="#mw" x="14.22" y="0"/>
<use href="#mw" x="28.44" y="0"/>
<use href="#mw" x="42.66" y="0"/>
<use href="#mw" x="56.88" y="0"/>
<use href="#mw" x="71.10" y="0"/>
<use href="#mw" x="85.32" y="0"/>
<use href="#mw" x="99.54" y="0"/>
</g></g></g>
<clipPath id="sc4"><rect x="129.30" y="256.40" width="55.90" height="23.20"/></clipPath>
<g clip-path="url(#sc4)"><g filter="url(#nz)"><g transform="translate(129.30,256.40) scale(1,0.9469)">
<use href="#mw" x="0.00" y="0"/>
<use href="#mw" x="14.22" y="0"/>
<use href="#mw" x="28.44" y="0"/>
<use href="#mw" x="42.66" y="0"/>
</g></g></g>
<clipPath id="sc5"><rect x="129.30" y="281.70" width="13.90" height="23.50"/></clipPath>
<g clip-path="url(#sc5)"><g filter="url(#nz)"><g transform="translate(129.30,281.70) scale(1,0.9592)">
<use href="#mw" x="0.00" y="0"/>
</g></g></g>
<clipPath id="sc6"><rect x="275.20" y="180.00" width="128.20" height="24.70"/></clipPath>
<g clip-path="url(#sc6)"><g filter="url(#nz)"><g transform="translate(275.20,180.00) scale(1,1.0082)">
<use href="#mk" x="0.00" y="0"/>
<use href="#mk" x="14.22" y="0"/>
<use href="#mk" x="28.44" y="0"/>
<use href="#mk" x="42.66" y="0"/>
<use href="#mk" x="56.88" y="0"/>
<use href="#mk" x="71.10" y="0"/>
<use href="#mk" x="85.32" y="0"/>
<use href="#mk" x="99.54" y="0"/>
<use href="#mk" x="113.76" y="0"/>
</g></g></g>
<clipPath id="sc7"><rect x="275.20" y="206.00" width="127.40" height="23.40"/></clipPath>
<g clip-path="url(#sc7)"><g filter="url(#nz)"><g transform="translate(275.20,206.00) scale(1,0.9551)">
<use href="#mk" x="0.00" y="0"/>
<use href="#mk" x="14.22" y="0"/>
<use href="#mk" x="28.44" y="0"/>
<use href="#mk" x="42.66" y="0"/>
<use href="#mk" x="56.88" y="0"/>
<use href="#mk" x="71.10" y="0"/>
<use href="#mk" x="85.32" y="0"/>
<use href="#mk" x="99.54" y="0"/>
<use href="#mk" x="113.76" y="0"/>
</g></g></g>
<clipPath id="sc8"><rect x="275.20" y="231.00" width="127.40" height="23.60"/></clipPath>
<g clip-path="url(#sc8)"><g filter="url(#nz)"><g transform="translate(275.20,231.00) scale(1,0.9633)">
<use href="#mk" x="0.00" y="0"/>
<use href="#mk" x="14.22" y="0"/>
<use href="#mk" x="28.44" y="0"/>
<use href="#mk" x="42.66" y="0"/>
<use href="#mk" x="56.88" y="0"/>
<use href="#mk" x="71.10" y="0"/>
<use href="#mk" x="85.32" y="0"/>
<use href="#mk" x="99.54" y="0"/>
<use href="#mk" x="113.76" y="0"/>
</g></g></g>
<clipPath id="sc9"><rect x="275.20" y="256.40" width="113.60" height="23.20"/></clipPath>
<g clip-path="url(#sc9)"><g filter="url(#nz)"><g transform="translate(275.20,256.40) scale(1,0.9469)">
<use href="#mk" x="0.00" y="0"/>
<use href="#mk" x="14.22" y="0"/>
<use href="#mk" x="28.44" y="0"/>
<use href="#mk" x="42.66" y="0"/>
<use href="#mk" x="56.88" y="0"/>
<use href="#mk" x="71.10" y="0"/>
<use href="#mk" x="85.32" y="0"/>
<use href="#mk" x="99.54" y="0"/>
</g></g></g>
<clipPath id="sc10"><rect x="275.20" y="281.70" width="99.80" height="23.50"/></clipPath>
<g clip-path="url(#sc10)"><g filter="url(#nz)"><g transform="translate(275.20,281.70) scale(1,0.9592)">
<use href="#mk" x="0.00" y="0"/>
<use href="#mk" x="14.22" y="0"/>
<use href="#mk" x="28.44" y="0"/>
<use href="#mk" x="42.66" y="0"/>
<use href="#mk" x="56.88" y="0"/>
<use href="#mk" x="71.10" y="0"/>
<use href="#mk" x="85.32" y="0"/>
</g></g></g>
<clipPath id="sc11"><rect x="275.20" y="307.00" width="99.60" height="23.70"/></clipPath>
<g clip-path="url(#sc11)"><g filter="url(#nz)"><g transform="translate(275.20,307.00) scale(1,0.9673)">
<use href="#mk" x="0.00" y="0"/>
<use href="#mk" x="14.22" y="0"/>
<use href="#mk" x="28.44" y="0"/>
<use href="#mk" x="42.66" y="0"/>
<use href="#mk" x="56.88" y="0"/>
<use href="#mk" x="71.10" y="0"/>
<use href="#mk" x="85.32" y="0"/>
</g></g></g>
<clipPath id="bmc"><rect x="53.8" y="180.2" width="71.7" height="23.8"/></clipPath>
<g clip-path="url(#bmc)"><g filter="url(#nz2)">
<rect x="53.8" y="180.2" width="71.7" height="23.8" fill="#4a4858"/>
<g filter="url(#bl2)">
<path d="M60.5,181.2 C56.9,181.2 56.3,186 54.9,191 C53.7,196 54.1,203.4 60.5,203.6 C66.9,203.4 67.3,196 66.1,191 C64.7,186 64.1,181.2 60.5,181.2Z" fill="#2620cc"/>
<ellipse cx="60.5" cy="190.6" rx="4.3" ry="4.3" fill="#3090d0" opacity="0.45"/>
<path d="M56.7,196.4 Q60.5,199.4 64.3,196.4 L63.7,200.4 Q60.5,201.4 57.3,200.4Z" fill="#28d8c0"/>
<ellipse cx="60.5" cy="199.3" rx="2.3" ry="1.1" fill="#60ff50"/>
<circle cx="60.5" cy="190.5" r="3.35" fill="#ff1414"/>
<ellipse cx="60.5" cy="183.9" rx="1.5" ry="1.2" fill="#4c88ff"/>
<path d="M73.8,181.2 C70.2,181.2 69.6,186 68.2,191 C67.0,196 67.4,203.4 73.8,203.6 C80.2,203.4 80.6,196 79.4,191 C78.0,186 77.4,181.2 73.8,181.2Z" fill="#2620cc"/>
<ellipse cx="73.8" cy="190.6" rx="4.3" ry="4.3" fill="#3090d0" opacity="0.45"/>
<path d="M70.0,196.4 Q73.8,199.4 77.6,196.4 L77.0,200.4 Q73.8,201.4 70.6,200.4Z" fill="#28d8c0"/>
<ellipse cx="73.8" cy="199.3" rx="2.3" ry="1.1" fill="#60ff50"/>
<circle cx="73.8" cy="190.5" r="3.35" fill="#ff1414"/>
<ellipse cx="73.8" cy="183.9" rx="1.5" ry="1.2" fill="#4c88ff"/>
<path d="M91.2,181.2 C87.6,181.2 87.0,186 85.6,191 C84.4,196 84.8,203.4 91.2,203.6 C97.6,203.4 98.0,196 96.8,191 C95.4,186 94.8,181.2 91.2,181.2Z" fill="#2620cc"/>
<ellipse cx="91.2" cy="190.6" rx="4.3" ry="4.3" fill="#3090d0" opacity="0.45"/>
<path d="M87.4,196.4 Q91.2,199.4 95.0,196.4 L94.4,200.4 Q91.2,201.4 88.0,200.4Z" fill="#28d8c0"/>
<ellipse cx="91.2" cy="199.3" rx="2.3" ry="1.1" fill="#60ff50"/>
<circle cx="91.2" cy="190.5" r="3.35" fill="#ff1414"/>
<ellipse cx="91.2" cy="183.9" rx="1.5" ry="1.2" fill="#4c88ff"/>
<path d="M105.7,181.2 C102.1,181.2 101.5,186 100.1,191 C98.9,196 99.3,203.4 105.7,203.6 C112.1,203.4 112.5,196 111.3,191 C109.9,186 109.3,181.2 105.7,181.2Z" fill="#2620cc"/>
<ellipse cx="105.7" cy="190.6" rx="4.3" ry="4.3" fill="#3090d0" opacity="0.45"/>
<path d="M101.9,196.4 Q105.7,199.4 109.5,196.4 L108.9,200.4 Q105.7,201.4 102.5,200.4Z" fill="#28d8c0"/>
<ellipse cx="105.7" cy="199.3" rx="2.3" ry="1.1" fill="#60ff50"/>
<circle cx="105.7" cy="190.5" r="3.35" fill="#ff1414"/>
<ellipse cx="105.7" cy="183.9" rx="1.5" ry="1.2" fill="#4c88ff"/>
<path d="M119.2,181.2 C115.6,181.2 115.0,186 113.6,191 C112.4,196 112.8,203.4 119.2,203.6 C125.6,203.4 126.0,196 124.8,191 C123.4,186 122.8,181.2 119.2,181.2Z" fill="#2620cc"/>
<ellipse cx="119.2" cy="190.6" rx="4.3" ry="4.3" fill="#3090d0" opacity="0.45"/>
<path d="M115.4,196.4 Q119.2,199.4 123.0,196.4 L122.4,200.4 Q119.2,201.4 116.0,200.4Z" fill="#28d8c0"/>
<ellipse cx="119.2" cy="199.3" rx="2.3" ry="1.1" fill="#60ff50"/>
<circle cx="119.2" cy="190.5" r="3.35" fill="#ff1414"/>
<ellipse cx="119.2" cy="183.9" rx="1.5" ry="1.2" fill="#4c88ff"/>
</g></g></g>
<rect x="200.40" y="180" width="71.30" height="24.5" fill="#202020" opacity="0.28"/>
<rect x="275.2" y="180" width="99.54" height="24.5" fill="#202020" opacity="0.15"/>
<ellipse cx="164.9" cy="216.5" rx="1.8" ry="2.4" fill="#5050c8" opacity="0.32" filter="url(#bl2)"/>
<ellipse cx="164.9" cy="267.5" rx="1.9" ry="2.6" fill="#4848c8" opacity="0.38" filter="url(#bl2)"/>
<rect x="374.74" y="180" width="27.84" height="24.70" fill="#181820" opacity="0.55"/>
<rect x="360.52" y="180" width="14.22" height="24.70" fill="#181818" opacity="0.25"/>
<rect x="374.74" y="206" width="27.84" height="23.40" fill="#181820" opacity="0.55"/>
<rect x="360.52" y="206" width="14.22" height="23.40" fill="#181818" opacity="0.25"/>
<rect x="374.74" y="231" width="27.84" height="23.60" fill="#181820" opacity="0.55"/>
<rect x="360.52" y="231" width="14.22" height="23.60" fill="#181818" opacity="0.25"/>
<rect x="374.74" y="256.4" width="13.82" height="23.20" fill="#181820" opacity="0.55"/>
<g filter="url(#bl2)">
<ellipse cx="381.9" cy="194.8" rx="2.8" ry="3.6" fill="#4a3ad0" opacity="0.8"/><ellipse cx="381.9" cy="193.6" rx="1.3" ry="1.3" fill="#a050c0" opacity="0.8"/>
<ellipse cx="396.1" cy="194.0" rx="2.8" ry="4.6" fill="#4040d0" opacity="0.8"/><ellipse cx="396.1" cy="196.4" rx="1.5" ry="2.0" fill="#c8c8f0" opacity="0.9"/>
<ellipse cx="381.9" cy="219.8" rx="3.6" ry="4.2" fill="#2c2cd0"/><ellipse cx="381.9" cy="219.6" rx="2.1" ry="2.2" fill="#5a50d8" stroke="#f04080" stroke-width="1.0"/>
<ellipse cx="396.1" cy="218.6" rx="3.9" ry="4.8" fill="#2424c8"/><ellipse cx="396.1" cy="217.8" rx="2.5" ry="1.7" fill="#9090f0" stroke="#f02060" stroke-width="1.0"/>
<ellipse cx="381.9" cy="245.6" rx="3.8" ry="5.2" fill="#2828d0"/><ellipse cx="381.9" cy="244.8" rx="2.0" ry="2.2" fill="#7858e0" stroke="#f02040" stroke-width="1.0"/>
<ellipse cx="396.5" cy="242.6" rx="5.0" ry="9.6" fill="#1c1ccc"/><ellipse cx="396.5" cy="234.4" rx="1.7" ry="1.5" fill="#40c0ff"/><ellipse cx="396.7" cy="244.8" rx="3.9" ry="5.2" fill="#ff1010"/>
<ellipse cx="381.9" cy="268.2" rx="5.6" ry="9.6" fill="#1c1ccc"/><ellipse cx="381.9" cy="259.6" rx="1.8" ry="1.6" fill="#40c0ff"/><ellipse cx="382.5" cy="271.6" rx="5.2" ry="4.8" fill="#ff1010"/>
</g>
<defs><linearGradient id="cb" x1="0" y1="0" x2="0" y2="1">
<stop offset="0" stop-color="#dc0000"/><stop offset="0.05" stop-color="#ff1000"/><stop offset="0.13" stop-color="#ff8000"/><stop offset="0.22" stop-color="#f8f000"/>
<stop offset="0.29" stop-color="#a0f000"/><stop offset="0.39" stop-color="#30e800"/><stop offset="0.58" stop-color="#00e840"/><stop offset="0.67" stop-color="#00e8b0"/>
<stop offset="0.735" stop-color="#00c0f0"/><stop offset="0.81" stop-color="#1060ff"/><stop offset="0.89" stop-color="#1818f0"/><stop offset="1" stop-color="#5000d0"/></linearGradient></defs>
<rect x="418.2" y="187.3" width="5.6" height="108.4" fill="url(#cb)"/>
<line x1="423.80" y1="188.00" x2="426.60" y2="188.00" stroke="#444" stroke-width="0.5" />
<line x1="423.80" y1="192.52" x2="425.30" y2="192.52" stroke="#444" stroke-width="0.5" />
<line x1="423.80" y1="197.04" x2="425.30" y2="197.04" stroke="#444" stroke-width="0.5" />
<line x1="423.80" y1="201.56" x2="425.30" y2="201.56" stroke="#444" stroke-width="0.5" />
<line x1="423.80" y1="206.08" x2="425.30" y2="206.08" stroke="#444" stroke-width="0.5" />
<line x1="423.80" y1="210.60" x2="426.60" y2="210.60" stroke="#444" stroke-width="0.5" />
<line x1="423.80" y1="215.12" x2="425.30" y2="215.12" stroke="#444" stroke-width="0.5" />
<line x1="423.80" y1="219.64" x2="425.30" y2="219.64" stroke="#444" stroke-width="0.5" />
<line x1="423.80" y1="224.16" x2="425.30" y2="224.16" stroke="#444" stroke-width="0.5" />
<line x1="423.80" y1="228.68" x2="425.30" y2="228.68" stroke="#444" stroke-width="0.5" />
<line x1="423.80" y1="233.20" x2="426.60" y2="233.20" stroke="#444" stroke-width="0.5" />
<line x1="423.80" y1="237.72" x2="425.30" y2="237.72" stroke="#444" stroke-width="0.5" />
<line x1="423.80" y1="242.24" x2="425.30" y2="242.24" stroke="#444" stroke-width="0.5" />
<line x1="423.80" y1="246.76" x2="425.30" y2="246.76" stroke="#444" stroke-width="0.5" />
<line x1="423.80" y1="251.28" x2="425.30" y2="251.28" stroke="#444" stroke-width="0.5" />
<line x1="423.80" y1="255.80" x2="426.60" y2="255.80" stroke="#444" stroke-width="0.5" />
<line x1="423.80" y1="260.32" x2="425.30" y2="260.32" stroke="#444" stroke-width="0.5" />
<line x1="423.80" y1="264.84" x2="425.30" y2="264.84" stroke="#444" stroke-width="0.5" />
<line x1="423.80" y1="269.36" x2="425.30" y2="269.36" stroke="#444" stroke-width="0.5" />
<line x1="423.80" y1="273.88" x2="425.30" y2="273.88" stroke="#444" stroke-width="0.5" />
<line x1="423.80" y1="278.40" x2="426.60" y2="278.40" stroke="#444" stroke-width="0.5" />
<line x1="423.80" y1="282.92" x2="425.30" y2="282.92" stroke="#444" stroke-width="0.5" />
<text x="428.40" y="188.10" font-size="3.8" text-anchor="start" font-weight="normal" fill="#111" >5.0</text>
<text x="428.40" y="210.70" font-size="3.8" text-anchor="start" font-weight="normal" fill="#111" >4.0</text>
<text x="428.40" y="233.30" font-size="3.8" text-anchor="start" font-weight="normal" fill="#111" >3.0</text>
<text x="428.40" y="255.90" font-size="3.8" text-anchor="start" font-weight="normal" fill="#111" >2.0</text>
<text x="428.40" y="278.50" font-size="3.8" text-anchor="start" font-weight="normal" fill="#111" >1.0</text>
<text x="418.00" y="183.30" font-size="3.8" text-anchor="start" font-weight="normal" fill="#111" >Luminescence</text>
<text x="437.20" y="242.00" font-size="3.8" text-anchor="start" font-weight="normal" fill="#111" >x10<tspan font-size="2.9" dy="-1.6">5</tspan></text>
<text x="418.00" y="305.60" font-size="3.7" text-anchor="start" font-weight="normal" fill="#222" >Radiance</text>
<text x="418.00" y="310.30" font-size="3.7" text-anchor="start" font-weight="normal" fill="#222" >(p/sec/cm²/sr)</text>
<rect x="418.4" y="314.7" width="25.8" height="15.2" fill="#fff" stroke="#444" stroke-width="0.5"/>
<text x="419.30" y="319.20" font-size="3.7" text-anchor="start" font-weight="normal" fill="#222" >Color Scale</text>
<text x="419.30" y="323.60" font-size="3.7" text-anchor="start" font-weight="normal" fill="#222" >Min = 2.00e4</text>
<text x="419.30" y="328.00" font-size="3.7" text-anchor="start" font-weight="normal" fill="#222" >Max = 5.00e5</text>
<text x="1.50" y="499.00" font-size="10.9" text-anchor="start" font-weight="bold" fill="#000" stroke="#000" stroke-width="0.31" >F</text>
<text x="3.00" y="535.20" font-size="10.2" text-anchor="start" font-weight="bold" fill="#000" stroke="#000" stroke-width="0.29" >WT</text>
<text x="3.00" y="577.20" font-size="10.2" text-anchor="start" font-weight="bold" fill="#000" stroke="#000" stroke-width="0.29" >KO</text>
<clipPath id="cw0"><rect x="35" y="508" width="43.5" height="43.69999999999995"/></clipPath>
<clipPath id="ck0"><rect x="35" y="552.3" width="43.5" height="43.9"/></clipPath>
<g clip-path="url(#cw0)">
<g filter="url(#bl2)">
<rect x="53.60" y="527.60" width="14.00" height="25.90" rx="6.30" ry="8.40" fill="#1830e8"/>
<rect x="54.72" y="529.78" width="11.76" height="21.62" rx="5.29" ry="7.06" fill="#00b0ff"/>
<rect x="55.84" y="532.18" width="9.52" height="17.12" rx="4.28" ry="5.71" fill="#30e468"/>
<ellipse cx="60.60" cy="538.50" rx="3.01" ry="3.91" fill="#d8f000"/>
<ellipse cx="60.60" cy="538.50" rx="2.31" ry="3.00" fill="#ff9c00"/>
<ellipse cx="60.60" cy="538.50" rx="1.75" ry="2.27" fill="#ff2000"/>
</g>
</g>
<g clip-path="url(#ck0)">
<g filter="url(#bl2)">
<rect x="52.80" y="573.60" width="14.20" height="24.90" rx="6.39" ry="8.52" fill="#1830e8"/>
<rect x="53.90" y="575.74" width="11.93" height="20.77" rx="5.37" ry="7.16" fill="#00b0ff"/>
<rect x="55.01" y="578.09" width="9.66" height="16.43" rx="4.35" ry="5.79" fill="#30e468"/>
<ellipse cx="59.70" cy="584.30" rx="3.05" ry="3.97" fill="#d8f000"/>
<ellipse cx="59.70" cy="584.30" rx="2.34" ry="3.05" fill="#ff9c00"/>
<ellipse cx="59.70" cy="584.30" rx="1.78" ry="2.31" fill="#ff2000"/>
</g>
</g>
<rect x="35" y="508" width="43.5" height="44.299999999999955" fill="none" stroke="#a8a8a8" stroke-width="0.7"/>
<rect x="35" y="552.3" width="43.5" height="44.5" fill="none" stroke="#a8a8a8" stroke-width="0.7"/>
<line x1="35.00" y1="516.60" x2="36.20" y2="516.60" stroke="#999" stroke-width="0.5" />
<line x1="46.20" y1="552.40" x2="46.20" y2="551.20" stroke="#999" stroke-width="0.5" />
<line x1="35.00" y1="525.20" x2="36.20" y2="525.20" stroke="#999" stroke-width="0.5" />
<line x1="54.40" y1="552.40" x2="54.40" y2="551.20" stroke="#999" stroke-width="0.5" />
<line x1="35.00" y1="533.80" x2="36.20" y2="533.80" stroke="#999" stroke-width="0.5" />
<line x1="62.60" y1="552.40" x2="62.60" y2="551.20" stroke="#999" stroke-width="0.5" />
<line x1="35.00" y1="542.40" x2="36.20" y2="542.40" stroke="#999" stroke-width="0.5" />
<line x1="70.80" y1="552.40" x2="70.80" y2="551.20" stroke="#999" stroke-width="0.5" />
<line x1="35.00" y1="560.90" x2="36.20" y2="560.90" stroke="#999" stroke-width="0.5" />
<line x1="46.20" y1="596.70" x2="46.20" y2="595.50" stroke="#999" stroke-width="0.5" />
<line x1="35.00" y1="569.50" x2="36.20" y2="569.50" stroke="#999" stroke-width="0.5" />
<line x1="54.40" y1="596.70" x2="54.40" y2="595.50" stroke="#999" stroke-width="0.5" />
<line x1="35.00" y1="578.10" x2="36.20" y2="578.10" stroke="#999" stroke-width="0.5" />
<line x1="62.60" y1="596.70" x2="62.60" y2="595.50" stroke="#999" stroke-width="0.5" />
<line x1="35.00" y1="586.70" x2="36.20" y2="586.70" stroke="#999" stroke-width="0.5" />
<line x1="70.80" y1="596.70" x2="70.80" y2="595.50" stroke="#999" stroke-width="0.5" />
<rect x="50" y="509.6" width="23.299999999999997" height="25.399999999999977" fill="none" stroke="#333" stroke-width="0.7"/>
<rect x="50" y="553.8" width="23.299999999999997" height="25.700000000000045" fill="none" stroke="#333" stroke-width="0.7"/>
<text x="36.20" y="514.20" font-size="6.3" text-anchor="start" font-weight="bold" fill="#000" >15.2</text>
<text x="36.20" y="558.90" font-size="6.3" text-anchor="start" font-weight="bold" fill="#000" >10.1</text>
<line x1="29.60" y1="509.00" x2="29.60" y2="572.30" stroke="#111" stroke-width="1.2" />
<path d="M26.900000000000002,512.6 L29.6,508.3 L32.300000000000004,512.6" fill="none" stroke="#111" stroke-width="1.3"/>
<text transform="translate(32.50,597.00) rotate(-90)" font-size="9.3" text-anchor="start" font-weight="bold" fill="#000" stroke="#000" stroke-width="0.26">GrZB</text>
<clipPath id="cw1"><rect x="90" y="508" width="44.30000000000001" height="43.69999999999995"/></clipPath>
<clipPath id="ck1"><rect x="90" y="552.3" width="44.30000000000001" height="43.9"/></clipPath>
<g clip-path="url(#cw1)">
<g filter="url(#bl2)">
<rect x="109.60" y="523.20" width="13.60" height="25.40" rx="6.12" ry="8.16" fill="#1830e8"/>
<rect x="110.67" y="525.70" width="11.42" height="21.09" rx="5.14" ry="6.85" fill="#00b0ff"/>
<rect x="111.74" y="528.45" width="9.25" height="16.54" rx="4.16" ry="5.55" fill="#30e468"/>
<ellipse cx="116.30" cy="535.70" rx="2.92" ry="3.80" fill="#d8f000"/>
<ellipse cx="116.30" cy="535.70" rx="2.24" ry="2.92" fill="#ff9c00"/>
<ellipse cx="116.30" cy="535.70" rx="1.70" ry="2.21" fill="#ff2000"/>
</g>
</g>
<g clip-path="url(#ck1)">
<g filter="url(#bl2)">
<rect x="108.40" y="567.60" width="14.80" height="26.60" rx="6.66" ry="8.88" fill="#1830e8"/>
<rect x="109.66" y="570.56" width="12.43" height="21.99" rx="5.59" ry="7.46" fill="#00b0ff"/>
<rect x="110.93" y="573.82" width="10.06" height="17.08" rx="4.53" ry="6.04" fill="#30e468"/>
<ellipse cx="116.30" cy="582.40" rx="3.18" ry="4.14" fill="#d8f000"/>
<ellipse cx="116.30" cy="582.40" rx="2.44" ry="3.17" fill="#ff9c00"/>
<ellipse cx="116.30" cy="582.40" rx="1.85" ry="2.40" fill="#ff2000"/>
</g>
</g>
<rect x="90" y="508" width="44.30000000000001" height="44.299999999999955" fill="none" stroke="#a8a8a8" stroke-width="0.7"/>
<rect x="90" y="552.3" width="44.30000000000001" height="44.5" fill="none" stroke="#a8a8a8" stroke-width="0.7"/>
<line x1="90.00" y1="516.60" x2="91.20" y2="516.60" stroke="#999" stroke-width="0.5" />
<line x1="101.20" y1="552.40" x2="101.20" y2="551.20" stroke="#999" stroke-width="0.5" />
<line x1="90.00" y1="525.20" x2="91.20" y2="525.20" stroke="#999" stroke-width="0.5" />
<line x1="109.40" y1="552.40" x2="109.40" y2="551.20" stroke="#999" stroke-width="0.5" />
<line x1="90.00" y1="533.80" x2="91.20" y2="533.80" stroke="#999" stroke-width="0.5" />
<line x1="117.60" y1="552.40" x2="117.60" y2="551.20" stroke="#999" stroke-width="0.5" />
<line x1="90.00" y1="542.40" x2="91.20" y2="542.40" stroke="#999" stroke-width="0.5" />
<line x1="125.80" y1="552.40" x2="125.80" y2="551.20" stroke="#999" stroke-width="0.5" />
<line x1="90.00" y1="560.90" x2="91.20" y2="560.90" stroke="#999" stroke-width="0.5" />
<line x1="101.20" y1="596.70" x2="101.20" y2="595.50" stroke="#999" stroke-width="0.5" />
<line x1="90.00" y1="569.50" x2="91.20" y2="569.50" stroke="#999" stroke-width="0.5" />
<line x1="109.40" y1="596.70" x2="109.40" y2="595.50" stroke="#999" stroke-width="0.5" />
<line x1="90.00" y1="578.10" x2="91.20" y2="578.10" stroke="#999" stroke-width="0.5" />
<line x1="117.60" y1="596.70" x2="117.60" y2="595.50" stroke="#999" stroke-width="0.5" />
<line x1="90.00" y1="586.70" x2="91.20" y2="586.70" stroke="#999" stroke-width="0.5" />
<line x1="125.80" y1="596.70" x2="125.80" y2="595.50" stroke="#999" stroke-width="0.5" />
<rect x="107" y="509.6" width="21" height="25.0" fill="none" stroke="#333" stroke-width="0.7"/>
<rect x="107" y="554.5" width="21" height="25.0" fill="none" stroke="#333" stroke-width="0.7"/>
<text x="91.20" y="514.20" font-size="6.3" text-anchor="start" font-weight="bold" fill="#000" >41</text>
<text x="91.20" y="558.90" font-size="6.3" text-anchor="start" font-weight="bold" fill="#000" >30.9</text>
<line x1="84.90" y1="509.00" x2="84.90" y2="559.80" stroke="#111" stroke-width="1.2" />
<path d="M82.2,512.6 L84.9,508.3 L87.60000000000001,512.6" fill="none" stroke="#111" stroke-width="1.3"/>
<text transform="translate(87.80,597.00) rotate(-90)" font-size="9.3" text-anchor="start" font-weight="bold" fill="#000" stroke="#000" stroke-width="0.26">CD107a</text>
<clipPath id="cw2"><rect x="146.2" y="508" width="43.80000000000001" height="43.69999999999995"/></clipPath>
<clipPath id="ck2"><rect x="146.2" y="552.3" width="43.80000000000001" height="43.9"/></clipPath>
<g clip-path="url(#cw2)">
<g filter="url(#bl2)">
<rect x="164.40" y="516.20" width="15.80" height="32.80" rx="7.11" ry="9.48" fill="#1830e8"/>
<rect x="165.71" y="520.56" width="13.27" height="26.90" rx="5.97" ry="7.96" fill="#00b0ff"/>
<rect x="167.02" y="525.36" width="10.74" height="20.56" rx="4.83" ry="6.45" fill="#30e468"/>
<ellipse cx="172.60" cy="538.00" rx="3.40" ry="4.42" fill="#d8f000"/>
<ellipse cx="172.60" cy="538.00" rx="2.61" ry="3.39" fill="#ff9c00"/>
<ellipse cx="172.60" cy="538.00" rx="1.97" ry="2.57" fill="#ff2000"/>
</g>
</g>
<g clip-path="url(#ck2)">
<g filter="url(#bl2)">
<rect x="163.60" y="561.20" width="16.00" height="35.20" rx="7.20" ry="9.60" fill="#1830e8"/>
<rect x="164.94" y="565.80" width="13.44" height="28.89" rx="6.05" ry="8.06" fill="#00b0ff"/>
<rect x="166.29" y="570.86" width="10.88" height="22.12" rx="4.90" ry="6.53" fill="#30e468"/>
<ellipse cx="172.00" cy="584.20" rx="3.44" ry="4.47" fill="#d8f000"/>
<ellipse cx="172.00" cy="584.20" rx="2.64" ry="3.43" fill="#ff9c00"/>
<ellipse cx="172.00" cy="584.20" rx="2.00" ry="2.60" fill="#ff2000"/>
</g>
</g>
<rect x="146.2" y="508" width="43.80000000000001" height="44.299999999999955" fill="none" stroke="#a8a8a8" stroke-width="0.7"/>
<rect x="146.2" y="552.3" width="43.80000000000001" height="44.5" fill="none" stroke="#a8a8a8" stroke-width="0.7"/>
<line x1="146.20" y1="516.60" x2="147.40" y2="516.60" stroke="#999" stroke-width="0.5" />
<line x1="157.40" y1="552.40" x2="157.40" y2="551.20" stroke="#999" stroke-width="0.5" />
<line x1="146.20" y1="525.20" x2="147.40" y2="525.20" stroke="#999" stroke-width="0.5" />
<line x1="165.60" y1="552.40" x2="165.60" y2="551.20" stroke="#999" stroke-width="0.5" />
<line x1="146.20" y1="533.80" x2="147.40" y2="533.80" stroke="#999" stroke-width="0.5" />
<line x1="173.80" y1="552.40" x2="173.80" y2="551.20" stroke="#999" stroke-width="0.5" />
<line x1="146.20" y1="542.40" x2="147.40" y2="542.40" stroke="#999" stroke-width="0.5" />
<line x1="182.00" y1="552.40" x2="182.00" y2="551.20" stroke="#999" stroke-width="0.5" />
<line x1="146.20" y1="560.90" x2="147.40" y2="560.90" stroke="#999" stroke-width="0.5" />
<line x1="157.40" y1="596.70" x2="157.40" y2="595.50" stroke="#999" stroke-width="0.5" />
<line x1="146.20" y1="569.50" x2="147.40" y2="569.50" stroke="#999" stroke-width="0.5" />
<line x1="165.60" y1="596.70" x2="165.60" y2="595.50" stroke="#999" stroke-width="0.5" />
<line x1="146.20" y1="578.10" x2="147.40" y2="578.10" stroke="#999" stroke-width="0.5" />
<line x1="173.80" y1="596.70" x2="173.80" y2="595.50" stroke="#999" stroke-width="0.5" />
<line x1="146.20" y1="586.70" x2="147.40" y2="586.70" stroke="#999" stroke-width="0.5" />
<line x1="182.00" y1="596.70" x2="182.00" y2="595.50" stroke="#999" stroke-width="0.5" />
<rect x="160.5" y="508.2" width="24.0" height="23.099999999999966" fill="none" stroke="#333" stroke-width="0.7"/>
<rect x="160.5" y="553.8" width="24.0" height="22.5" fill="none" stroke="#333" stroke-width="0.7"/>
<text x="147.40" y="514.20" font-size="6.3" text-anchor="start" font-weight="bold" fill="#000" >21.8</text>
<text x="147.40" y="558.90" font-size="6.3" text-anchor="start" font-weight="bold" fill="#000" >22.7</text>
<line x1="141.50" y1="509.00" x2="141.50" y2="574.80" stroke="#111" stroke-width="1.2" />
<path d="M138.8,512.6 L141.5,508.3 L144.2,512.6" fill="none" stroke="#111" stroke-width="1.3"/>
<text transform="translate(144.40,597.00) rotate(-90)" font-size="9.3" text-anchor="start" font-weight="bold" fill="#000" stroke="#000" stroke-width="0.26">IFNγ</text>
<clipPath id="cw3"><rect x="201.3" y="508" width="44.39999999999998" height="43.69999999999995"/></clipPath>
<clipPath id="ck3"><rect x="201.3" y="552.3" width="44.39999999999998" height="43.9"/></clipPath>
<g clip-path="url(#cw3)">
<g filter="url(#bl2)">
<rect x="220.20" y="530.00" width="11.40" height="24.50" rx="5.13" ry="6.84" fill="#1830e8"/>
<rect x="221.36" y="532.70" width="9.12" height="20.04" rx="4.10" ry="5.47" fill="#00b0ff"/>
<rect x="223.22" y="538.10" width="5.47" height="12.22" rx="2.46" ry="3.28" fill="#30e088"/>
</g>
</g>
<g clip-path="url(#ck3)">
<g filter="url(#bl2)">
<rect x="218.60" y="568.20" width="14.00" height="30.60" rx="6.30" ry="8.40" fill="#1830e8"/>
<rect x="219.93" y="571.36" width="11.48" height="25.37" rx="5.17" ry="6.89" fill="#00b0ff"/>
<rect x="221.41" y="575.31" width="8.68" height="19.05" rx="3.91" ry="5.21" fill="#30e468"/>
<ellipse cx="226.00" cy="584.00" rx="2.10" ry="2.73" fill="#a0f030"/>
</g>
</g>
<rect x="201.3" y="508" width="44.39999999999998" height="44.299999999999955" fill="none" stroke="#a8a8a8" stroke-width="0.7"/>
<rect x="201.3" y="552.3" width="44.39999999999998" height="44.5" fill="none" stroke="#a8a8a8" stroke-width="0.7"/>
<line x1="201.30" y1="516.60" x2="202.50" y2="516.60" stroke="#999" stroke-width="0.5" />
<line x1="212.50" y1="552.40" x2="212.50" y2="551.20" stroke="#999" stroke-width="0.5" />
<line x1="201.30" y1="525.20" x2="202.50" y2="525.20" stroke="#999" stroke-width="0.5" />
<line x1="220.70" y1="552.40" x2="220.70" y2="551.20" stroke="#999" stroke-width="0.5" />
<line x1="201.30" y1="533.80" x2="202.50" y2="533.80" stroke="#999" stroke-width="0.5" />
<line x1="228.90" y1="552.40" x2="228.90" y2="551.20" stroke="#999" stroke-width="0.5" />
<line x1="201.30" y1="542.40" x2="202.50" y2="542.40" stroke="#999" stroke-width="0.5" />
<line x1="237.10" y1="552.40" x2="237.10" y2="551.20" stroke="#999" stroke-width="0.5" />
<line x1="201.30" y1="560.90" x2="202.50" y2="560.90" stroke="#999" stroke-width="0.5" />
<line x1="212.50" y1="596.70" x2="212.50" y2="595.50" stroke="#999" stroke-width="0.5" />
<line x1="201.30" y1="569.50" x2="202.50" y2="569.50" stroke="#999" stroke-width="0.5" />
<line x1="220.70" y1="596.70" x2="220.70" y2="595.50" stroke="#999" stroke-width="0.5" />
<line x1="201.30" y1="578.10" x2="202.50" y2="578.10" stroke="#999" stroke-width="0.5" />
<line x1="228.90" y1="596.70" x2="228.90" y2="595.50" stroke="#999" stroke-width="0.5" />
<line x1="201.30" y1="586.70" x2="202.50" y2="586.70" stroke="#999" stroke-width="0.5" />
<line x1="237.10" y1="596.70" x2="237.10" y2="595.50" stroke="#999" stroke-width="0.5" />
<rect x="216.3" y="509.6" width="22.0" height="21.699999999999932" fill="none" stroke="#333" stroke-width="0.7"/>
<rect x="216.3" y="554.5" width="22.0" height="22.5" fill="none" stroke="#333" stroke-width="0.7"/>
<text x="202.50" y="514.20" font-size="6.3" text-anchor="start" font-weight="bold" fill="#000" >1.02</text>
<text x="202.50" y="558.90" font-size="6.3" text-anchor="start" font-weight="bold" fill="#000" >5.24</text>
<line x1="195.00" y1="509.00" x2="195.00" y2="572.30" stroke="#111" stroke-width="1.2" />
<path d="M192.3,512.6 L195.0,508.3 L197.7,512.6" fill="none" stroke="#111" stroke-width="1.3"/>
<text transform="translate(197.90,597.00) rotate(-90)" font-size="9.3" text-anchor="start" font-weight="bold" fill="#000" stroke="#000" stroke-width="0.26">TNFα</text>
<text x="35.80" y="606.70" font-size="9.3" text-anchor="start" font-weight="bold" fill="#000" stroke="#000" stroke-width="0.26" >CD8</text>
<line x1="55.20" y1="603.50" x2="245.00" y2="603.50" stroke="#111" stroke-width="1.2" />
<path d="M241.2,600.6 L245.6,603.4 L241.2,606.2" fill="none" stroke="#111" stroke-width="1.3"/>
<text x="266.50" y="499.20" font-size="10.9" text-anchor="start" font-weight="bold" fill="#000" stroke="#000" stroke-width="0.31" >G</text>
<line x1="312.50" y1="500.00" x2="312.50" y2="601.20" stroke="#000" stroke-width="1.4" />
<line x1="311.90" y1="600.60" x2="502.60" y2="600.60" stroke="#000" stroke-width="1.4" />
<line x1="309.70" y1="600.60" x2="312.50" y2="600.60" stroke="#000" stroke-width="1.4" />
<text x="309.70" y="604.20" font-size="10.3" text-anchor="end" font-weight="bold" fill="#000" stroke="#000" stroke-width="0.29" >1</text>
<line x1="309.70" y1="588.07" x2="312.50" y2="588.07" stroke="#000" stroke-width="1.4" />
<text x="309.70" y="591.67" font-size="10.3" text-anchor="end" font-weight="bold" fill="#000" stroke="#000" stroke-width="0.29" >2</text>
<line x1="309.70" y1="575.54" x2="312.50" y2="575.54" stroke="#000" stroke-width="1.4" />
<text x="309.70" y="579.14" font-size="10.3" text-anchor="end" font-weight="bold" fill="#000" stroke="#000" stroke-width="0.29" >4</text>
<line x1="309.70" y1="563.01" x2="312.50" y2="563.01" stroke="#000" stroke-width="1.4" />
<text x="309.70" y="566.61" font-size="10.3" text-anchor="end" font-weight="bold" fill="#000" stroke="#000" stroke-width="0.29" >8</text>
<line x1="309.70" y1="550.48" x2="312.50" y2="550.48" stroke="#000" stroke-width="1.4" />
<text x="309.70" y="554.08" font-size="10.3" text-anchor="end" font-weight="bold" fill="#000" stroke="#000" stroke-width="0.29" >16</text>
<line x1="309.70" y1="537.95" x2="312.50" y2="537.95" stroke="#000" stroke-width="1.4" />
<text x="309.70" y="541.55" font-size="10.3" text-anchor="end" font-weight="bold" fill="#000" stroke="#000" stroke-width="0.29" >32</text>
<line x1="309.70" y1="525.42" x2="312.50" y2="525.42" stroke="#000" stroke-width="1.4" />
<text x="309.70" y="529.02" font-size="10.3" text-anchor="end" font-weight="bold" fill="#000" stroke="#000" stroke-width="0.29" >64</text>
<line x1="309.70" y1="512.89" x2="312.50" y2="512.89" stroke="#000" stroke-width="1.4" />
<text x="309.70" y="516.49" font-size="10.3" text-anchor="end" font-weight="bold" fill="#000" stroke="#000" stroke-width="0.29" >128</text>
<line x1="309.70" y1="500.36" x2="312.50" y2="500.36" stroke="#000" stroke-width="1.4" />
<text x="309.70" y="503.96" font-size="10.3" text-anchor="end" font-weight="bold" fill="#000" stroke="#000" stroke-width="0.29" >256</text>
<text transform="translate(286.30,550.70) rotate(-90)" font-size="12.75" text-anchor="middle" font-weight="bold" fill="#000" stroke="#000" stroke-width="0.36"># Cells (×10<tspan font-size="8.2" dy="-4.4">5</tspan><tspan dy="4.4">)</tspan></text>
<line x1="325.25" y1="509.50" x2="325.25" y2="513.00" stroke="#000" stroke-width="1.3" />
<line x1="321.75" y1="509.50" x2="328.75" y2="509.50" stroke="#000" stroke-width="1.3" />
<line x1="337.95" y1="503.60" x2="337.95" y2="505.50" stroke="#000" stroke-width="1.3" />
<line x1="334.45" y1="503.60" x2="341.45" y2="503.60" stroke="#000" stroke-width="1.3" />
<rect x="318.90" y="513.00" width="12.7" height="87.60" fill="#d2d2d2" stroke="#000" stroke-width="0.9"/>
<rect x="331.60" y="505.50" width="12.7" height="95.10" fill="#000" stroke="#000" stroke-width="0.9"/>
<line x1="331.60" y1="600.60" x2="331.60" y2="604.00" stroke="#000" stroke-width="1.4" />
<text transform="translate(334.60,612.50) rotate(-42)" font-size="12.3" text-anchor="end" font-weight="bold" fill="#000" stroke="#000" stroke-width="0.34">CD8</text>
<line x1="363.35" y1="538.00" x2="363.35" y2="543.30" stroke="#000" stroke-width="1.3" />
<line x1="359.85" y1="538.00" x2="366.85" y2="538.00" stroke="#000" stroke-width="1.3" />
<line x1="376.05" y1="548.20" x2="376.05" y2="550.00" stroke="#000" stroke-width="1.3" />
<line x1="372.55" y1="548.20" x2="379.55" y2="548.20" stroke="#000" stroke-width="1.3" />
<rect x="357.00" y="543.30" width="12.7" height="57.30" fill="#d2d2d2" stroke="#000" stroke-width="0.9"/>
<rect x="369.70" y="550.00" width="12.7" height="50.60" fill="#000" stroke="#000" stroke-width="0.9"/>
<line x1="369.70" y1="600.60" x2="369.70" y2="604.00" stroke="#000" stroke-width="1.4" />
<text transform="translate(372.70,612.50) rotate(-42)" font-size="12.3" text-anchor="end" font-weight="bold" fill="#000" stroke="#000" stroke-width="0.34">GrZB</text>
<line x1="401.25" y1="519.60" x2="401.25" y2="525.20" stroke="#000" stroke-width="1.3" />
<line x1="397.75" y1="519.60" x2="404.75" y2="519.60" stroke="#000" stroke-width="1.3" />
<line x1="413.95" y1="526.30" x2="413.95" y2="528.50" stroke="#000" stroke-width="1.3" />
<line x1="410.45" y1="526.30" x2="417.45" y2="526.30" stroke="#000" stroke-width="1.3" />
<rect x="394.90" y="525.20" width="12.7" height="75.40" fill="#d2d2d2" stroke="#000" stroke-width="0.9"/>
<rect x="407.60" y="528.50" width="12.7" height="72.10" fill="#000" stroke="#000" stroke-width="0.9"/>
<line x1="407.60" y1="600.60" x2="407.60" y2="604.00" stroke="#000" stroke-width="1.4" />
<text transform="translate(410.60,612.50) rotate(-42)" font-size="12.3" text-anchor="end" font-weight="bold" fill="#000" stroke="#000" stroke-width="0.34">CD107a</text>
<line x1="438.95" y1="537.00" x2="438.95" y2="541.10" stroke="#000" stroke-width="1.3" />
<line x1="435.45" y1="537.00" x2="442.45" y2="537.00" stroke="#000" stroke-width="1.3" />
<line x1="451.65" y1="532.50" x2="451.65" y2="534.70" stroke="#000" stroke-width="1.3" />
<line x1="448.15" y1="532.50" x2="455.15" y2="532.50" stroke="#000" stroke-width="1.3" />
<rect x="432.60" y="541.10" width="12.7" height="59.50" fill="#d2d2d2" stroke="#000" stroke-width="0.9"/>
<rect x="445.30" y="534.70" width="12.7" height="65.90" fill="#000" stroke="#000" stroke-width="0.9"/>
<line x1="445.30" y1="600.60" x2="445.30" y2="604.00" stroke="#000" stroke-width="1.4" />
<text transform="translate(448.30,612.50) rotate(-42)" font-size="12.3" text-anchor="end" font-weight="bold" fill="#000" stroke="#000" stroke-width="0.34">IFNγ</text>
<line x1="476.65" y1="591.00" x2="476.65" y2="596.40" stroke="#000" stroke-width="1.3" />
<line x1="473.15" y1="591.00" x2="480.15" y2="591.00" stroke="#000" stroke-width="1.3" />
<line x1="489.35" y1="584.30" x2="489.35" y2="587.00" stroke="#000" stroke-width="1.3" />
<line x1="485.85" y1="584.30" x2="492.85" y2="584.30" stroke="#000" stroke-width="1.3" />
<rect x="470.30" y="596.40" width="12.7" height="4.20" fill="#d2d2d2" stroke="#000" stroke-width="0.9"/>
<rect x="483.00" y="587.00" width="12.7" height="13.60" fill="#000" stroke="#000" stroke-width="0.9"/>
<line x1="483.00" y1="600.60" x2="483.00" y2="604.00" stroke="#000" stroke-width="1.4" />
<text transform="translate(486.00,612.50) rotate(-42)" font-size="12.3" text-anchor="end" font-weight="bold" fill="#000" stroke="#000" stroke-width="0.34">TNFα</text>
<rect x="452.8" y="496.8" width="15.4" height="7.4" fill="#d2d2d2" stroke="#000" stroke-width="0.9"/>
<rect x="452.8" y="511.8" width="15.4" height="7.4" fill="#000" stroke="#000" stroke-width="0.9"/>
<text x="477.00" y="504.70" font-size="11" text-anchor="start" font-weight="bold" fill="#000" stroke="#000" stroke-width="0.31" >WT</text>
<text x="477.00" y="519.50" font-size="11" text-anchor="start" font-weight="bold" fill="#000" stroke="#000" stroke-width="0.31" >KO</text>
</svg></body></html>
